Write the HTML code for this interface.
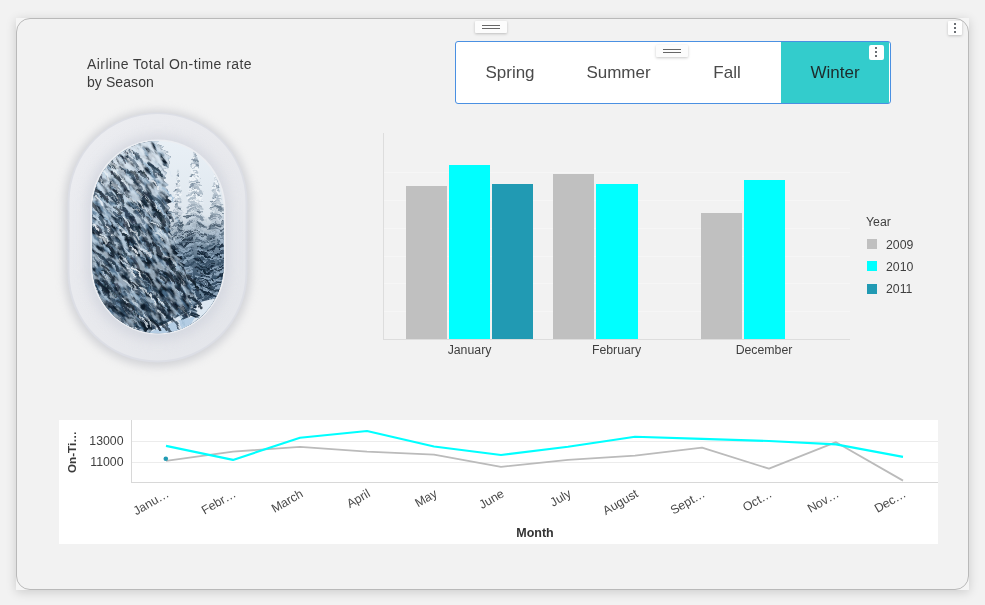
<!DOCTYPE html>
<html lang="en">
<head>
<meta charset="utf-8">
<title>Airline Total On-time rate by Season</title>
<style>
html,body{margin:0;padding:0;}
body{width:985px;height:605px;overflow:hidden;background:#f2f2f2;font-family:"Liberation Sans",sans-serif;color:#3b3b3b;position:relative;}
.abs{position:absolute;}
#shadowbox{left:16px;top:18px;width:953px;height:572px;box-shadow:0 2px 10px rgba(0,0,0,0.16);background:#f5f5f5;}
#frame{left:16px;top:18px;width:951px;height:570px;border:1px solid #b9b9b9;border-radius:14px;background:#f2f2f2;}
.handle{width:32px;height:12px;border-radius:1px;background:#fcfcfc;box-shadow:0 1px 3px rgba(0,0,0,0.22);}
.handle i{position:absolute;left:7px;width:18px;height:1px;background:#666;}
.kebab{width:14px;height:14px;border-radius:1px;background:#fff;box-shadow:0 1px 3px rgba(0,0,0,0.2);}
.kebab i{position:absolute;left:6px;width:2px;height:2px;background:#6a6e73;}
#title{left:87px;top:55px;font-size:14px;line-height:18px;letter-spacing:0.43px;color:#3d3d3d;white-space:nowrap;}
#tabs{left:455px;top:41px;width:434px;height:61px;border:1px solid #4a90e2;border-radius:3px;background:#fff;}
.tab{position:absolute;top:0;height:61px;line-height:61px;text-align:center;font-size:17px;color:#4a4a4a;}
#chartlbl text{font-family:"Liberation Sans",sans-serif;}
</style>
</head>
<body>
<div id="shadowbox" class="abs"></div>
<div id="frame" class="abs"></div>

<div class="abs handle" style="left:475px;top:21px;"><i style="top:4px"></i><i style="top:7px"></i></div>
<div class="abs kebab" style="left:948px;top:21px;"><i style="top:2px"></i><i style="top:6px"></i><i style="top:10px"></i></div>

<div id="title" class="abs">Airline Total On-time rate<br><span style="letter-spacing:0.08px">by Season</span></div>

<div id="tabs" class="abs">
  <div class="tab" style="left:0;width:108px;">Spring</div>
  <div class="tab" style="left:108px;width:109px;">Summer</div>
  <div class="tab" style="left:217px;width:108px;">Fall</div>
  <div class="tab" style="left:325px;width:108px;background:#33cccc;color:#1d2b2b;">Winter</div>
</div>
<div class="abs handle" style="left:656px;top:45px;"><i style="top:4px"></i><i style="top:7px"></i></div>
<div class="abs kebab" style="left:868.5px;top:44.5px;width:15px;height:15px;box-shadow:none;border-radius:2px;"><i style="left:6.5px;top:2.5px"></i><i style="left:6.5px;top:6.5px"></i><i style="left:6.5px;top:10.5px"></i></div>

<!-- window -->
<svg class="abs" style="left:40px;top:95px;" width="240" height="290" viewBox="40 95 240 290">
  <defs>
    <clipPath id="inner"><rect x="92.300" y="141" width="131.400" height="192.300" rx="65.700" ry="68"/></clipPath>
    <linearGradient id="fr" x1="0" y1="0" x2="1" y2="1">
      <stop offset="0" stop-color="#ecedf1"/><stop offset="0.5" stop-color="#e8e9ed"/><stop offset="1" stop-color="#e3e5ea"/>
    </linearGradient>
    <linearGradient id="sky" x1="0" y1="0" x2="0" y2="1">
      <stop offset="0" stop-color="#e9f0f6"/><stop offset="0.4" stop-color="#dfe7ee"/><stop offset="1" stop-color="#c5d2de"/>
    </linearGradient>
    <linearGradient id="rdark" x1="0" y1="0" x2="0" y2="1">
      <stop offset="0" stop-color="#7f94a6" stop-opacity="0"/><stop offset="0.25" stop-color="#5f788e" stop-opacity="0.8"/><stop offset="0.5" stop-color="#38526a" stop-opacity="0.97"/><stop offset="1" stop-color="#2f455b" stop-opacity="1"/>
    </linearGradient>
    <linearGradient id="tree" x1="0" y1="0" x2="0.35" y2="1">
      <stop offset="0" stop-color="#a9c0d2"/><stop offset="0.25" stop-color="#6d8ca6"/><stop offset="1" stop-color="#3f5f7b"/>
    </linearGradient>
    <clipPath id="frameclip"><rect x="69.500" y="114" width="176" height="246.500" rx="88"/></clipPath>
    <filter id="blur6" x="-20%" y="-20%" width="140%" height="140%"><feGaussianBlur stdDeviation="6"/></filter>
    <filter id="blur4" x="-20%" y="-20%" width="140%" height="140%"><feGaussianBlur stdDeviation="4"/></filter>
    <filter id="soft" x="-5%" y="-5%" width="110%" height="110%"><feGaussianBlur stdDeviation="0.45"/></filter>
    <filter id="rough" x="-5%" y="-5%" width="110%" height="110%">
      <feTurbulence type="fractalNoise" baseFrequency="0.18" numOctaves="2" seed="4" result="t"/>
      <feDisplacementMap in="SourceGraphic" in2="t" scale="5" xChannelSelector="R" yChannelSelector="G" result="d"/>
      <feGaussianBlur in="d" stdDeviation="0.35"/>
    </filter>
    <filter id="rough2" x="-5%" y="-5%" width="110%" height="110%">
      <feTurbulence type="fractalNoise" baseFrequency="0.2" numOctaves="2" seed="9" result="t"/>
      <feDisplacementMap in="SourceGraphic" in2="t" scale="3.5" xChannelSelector="R" yChannelSelector="G" result="d"/>
      <feGaussianBlur in="d" stdDeviation="0.3"/>
    </filter>
    <filter id="n1" x="0" y="0" width="100%" height="100%" color-interpolation-filters="sRGB">
      <feTurbulence type="fractalNoise" baseFrequency="0.085 0.23" numOctaves="4" seed="3" result="t"/>
      <feColorMatrix in="t" type="matrix" values="0 0 0 0 0  0 0 0 0 0  0 0 0 0 0  4.6 0 0 0 -1.75" result="a"/>
      <feFlood flood-color="#cfe0ee" result="f"/>
      <feComposite in="f" in2="a" operator="in"/>
    </filter>
    <filter id="n3" x="0" y="0" width="100%" height="100%" color-interpolation-filters="sRGB">
      <feTurbulence type="fractalNoise" baseFrequency="0.09 0.2" numOctaves="4" seed="23" result="t"/>
      <feColorMatrix in="t" type="matrix" values="0 0 0 0 0  0 0 0 0 0  0 0 0 0 0  0 0 3.4 0 -1.0" result="a"/>
      <feFlood flood-color="#dde7f0" result="f"/>
      <feComposite in="f" in2="a" operator="in"/>
    </filter>
    <linearGradient id="tmg" gradientUnits="userSpaceOnUse" x1="0" y1="141" x2="0" y2="205">
      <stop offset="0" stop-color="#fff"/><stop offset="0.45" stop-color="#bbb"/><stop offset="1" stop-color="#000"/>
    </linearGradient>
    <mask id="tm" maskUnits="userSpaceOnUse" x="-200" y="-200" width="800" height="800"><rect x="-200" y="-200" width="800" height="800" fill="url(#tmg)" transform="rotate(-50 158 237)"/></mask>
    <filter id="n2" x="0" y="0" width="100%" height="100%" color-interpolation-filters="sRGB">
      <feTurbulence type="fractalNoise" baseFrequency="0.08 0.22" numOctaves="4" seed="11" result="t"/>
      <feColorMatrix in="t" type="matrix" values="0 0 0 0 0  0 0 0 0 0  0 0 0 0 0  0 4.4 0 0 -1.6" result="a"/>
      <feFlood flood-color="#0c1a28" result="f"/>
      <feComposite in="f" in2="a" operator="in"/>
    </filter>
    <filter id="nr1" x="0" y="0" width="100%" height="100%" color-interpolation-filters="sRGB">
      <feTurbulence type="fractalNoise" baseFrequency="0.22 0.22" numOctaves="3" seed="5" result="t"/>
      <feColorMatrix in="t" type="matrix" values="0 0 0 0 0  0 0 0 0 0  0 0 0 0 0  3 0 0 0 -1.2" result="a"/>
      <feFlood flood-color="#f4f7fa" result="f"/>
      <feComposite in="f" in2="a" operator="in"/>
    </filter>
    <filter id="nr2" x="0" y="0" width="100%" height="100%" color-interpolation-filters="sRGB">
      <feTurbulence type="fractalNoise" baseFrequency="0.2 0.2" numOctaves="3" seed="8" result="t"/>
      <feColorMatrix in="t" type="matrix" values="0 0 0 0 0  0 0 0 0 0  0 0 0 0 0  0 3 0 0 -1.3" result="a"/>
      <feFlood flood-color="#5d7286" result="f"/>
      <feComposite in="f" in2="a" operator="in"/>
    </filter>
    <filter id="nr3" x="0" y="0" width="100%" height="100%" color-interpolation-filters="sRGB">
      <feTurbulence type="fractalNoise" baseFrequency="0.2 0.14" numOctaves="3" seed="15" result="t"/>
      <feColorMatrix in="t" type="matrix" values="0 0 0 0 0  0 0 0 0 0  0 0 0 0 0  0 0 3 0 -1.2" result="a"/>
      <feFlood flood-color="#2a4156" result="f"/>
      <feComposite in="f" in2="a" operator="in"/>
    </filter>
    <linearGradient id="lmg" gradientUnits="userSpaceOnUse" x1="100" y1="141" x2="150" y2="333">
      <stop offset="0" stop-color="#fff"/><stop offset="0.3" stop-color="#ddd"/><stop offset="1" stop-color="#8a8a8a"/>
    </linearGradient>
    <mask id="lm" maskUnits="userSpaceOnUse" x="-200" y="-200" width="800" height="800"><rect x="-200" y="-200" width="800" height="800" fill="url(#lmg)" transform="rotate(-50 158 237)"/></mask>
    <clipPath id="rightclip"><path d="M150 141 L230 141 L230 300 L200 298 L190 306 L176 318 L150 330Z"/></clipPath>
  </defs>
  <rect x="64" y="110" width="187" height="257" rx="93" fill="#b9bbc2" opacity="0.55" filter="url(#blur4)"/>
  <rect x="67.500" y="112.500" width="180" height="250" rx="90" fill="#dcdee5"/>
  <rect x="69.500" y="114" width="176" height="246.500" rx="88" fill="url(#fr)"/>
  <g clip-path="url(#frameclip)"><rect x="86" y="135" width="144" height="206" rx="72" fill="#d2d5de" opacity="0.85" filter="url(#blur6)"/></g>
  <rect x="90.500" y="139.500" width="135" height="195" rx="67.500" ry="69.500" fill="#eceef2"/>
<g clip-path="url(#inner)">
<rect x="92" y="141" width="132" height="192" fill="url(#sky)"/>
<g filter="url(#soft)">
<path d="M216 167 L217.4 170 L216.8 172.4 L218.6 177.1 L217.2 179.5 L219.1 184.2 L217.6 186.6 L220.1 191.2 L217.9 193.7 L220.1 198.3 L218.3 200.8 L222 205.4 L218.7 207.9 L222.7 212.5 L219.1 214.9 L222.9 219.6 L219.5 222 L223.1 226.7 L219.9 229.1 L225.5 233.8 L220.2 236.2 L223.9 240.8 L220.6 243.3 L227.4 247.9 L221 250.4 L225.9 255 L221.4 257.4 L225.9 262.1 L221.8 264.5 L228.1 269.2 L222.2 271.6 L228.1 276.2 L222.6 278.7 L228.7 283.3 L222.9 285.8 L229.7 290.4 L223.3 292.9 L233 297.5 L223.7 299.9 L232.9 304.6 L224.1 307 L235.4 311.7 L224.5 314.1 L231.7 318.8 L224.8 321.2 L235.7 325.8 L225.2 328.3 L237.8 332.9 L225.6 335.4 L238 340 L226 342.4 L226 340 L206 340 L206 342.4 L195 340 L206.4 335.4 L197.2 332.9 L206.8 328.3 L196.4 325.8 L207.2 321.2 L199.2 318.8 L207.5 314.1 L197.2 311.7 L207.9 307 L201.4 304.6 L208.3 299.9 L200.3 297.5 L208.7 292.9 L203.5 290.4 L209.1 285.8 L202.3 283.3 L209.4 278.7 L204 276.2 L209.8 271.6 L203.7 269.2 L210.2 264.5 L205.4 262.1 L210.6 257.4 L205.5 255 L211 250.4 L206.3 247.9 L211.4 243.3 L206.6 240.8 L211.8 236.2 L208.7 233.8 L212.1 229.1 L207.2 226.7 L212.5 222 L208.6 219.6 L212.9 214.9 L210.7 212.5 L213.3 207.9 L210.7 205.4 L213.7 200.8 L212 198.3 L214.1 193.7 L211.8 191.2 L214.4 186.6 L212.9 184.2 L214.8 179.5 L213.8 177.1 L215.2 172.4 L214.2 170Z" fill="#c3ced8" opacity="1"/>
<path d="M178 169 L179.3 172 L178.6 174.4 L179.4 179 L178.8 181.4 L180.4 186 L179.1 188.4 L180.9 193 L179.4 195.4 L181.4 200 L179.6 202.4 L181.9 207 L179.9 209.4 L182.2 214 L180.2 216.4 L183.2 221 L180.4 223.4 L184.1 228 L180.7 230.4 L183.9 235 L181 237.4 L183.6 242 L181.2 244.4 L184.9 249 L181.5 251.4 L185.3 256 L181.8 258.4 L186.2 263 L182 265.4 L185.9 270 L182.3 272.4 L186.7 277 L182.6 279.4 L187.7 284 L182.9 286.4 L188.8 291 L183.1 293.4 L190.1 298 L183.4 300.4 L190.1 305 L183.7 307.4 L190.8 312 L183.9 314.4 L189.8 319 L184.2 321.4 L192.7 326 L184.5 328.4 L192.5 333 L184.7 335.4 L191.8 340 L185 342.4 L185 340 L171 340 L171 342.4 L163.9 340 L171.3 335.4 L163.7 333 L171.5 328.4 L166.4 326 L171.8 321.4 L163.8 319 L172.1 314.4 L165.1 312 L172.3 307.4 L165.3 305 L172.6 300.4 L166.3 298 L172.9 293.4 L168.7 291 L173.1 286.4 L166.8 284 L173.4 279.4 L169.8 277 L173.7 272.4 L170.6 270 L174 265.4 L169.8 263 L174.2 258.4 L169.6 256 L174.5 251.4 L171.4 249 L174.8 244.4 L172.4 242 L175 237.4 L172.5 235 L175.3 230.4 L172.5 228 L175.6 223.4 L172.4 221 L175.8 216.4 L173.8 214 L176.1 209.4 L174.6 207 L176.4 202.4 L174.6 200 L176.6 195.4 L175.4 193 L176.9 188.4 L175.7 186 L177.2 181.4 L176.5 179 L177.4 174.4 L176.7 172Z" fill="#c9d3dc" opacity="1"/>
<path d="M195 149 L196.8 152 L196 154.8 L197.8 160.2 L196.4 163 L199 168.3 L196.9 171.1 L199.1 176.5 L197.4 179.3 L200.3 184.7 L197.9 187.5 L202.7 192.9 L198.4 195.7 L203.5 201 L198.8 203.8 L204 209.2 L199.3 212 L205 217.4 L199.8 220.2 L205.6 225.6 L200.3 228.4 L207.1 233.7 L200.8 236.5 L208.4 241.9 L201.2 244.7 L207.6 250.1 L201.7 252.9 L211 258.3 L202.2 261.1 L211.4 266.4 L202.7 269.2 L212.4 274.6 L203.2 277.4 L211.7 282.8 L203.6 285.6 L212.9 291 L204.1 293.8 L216.4 299.1 L204.6 301.9 L213 307.3 L205.1 310.1 L219.1 315.5 L205.6 318.3 L217.9 323.7 L206 326.5 L218.1 331.8 L206.5 334.6 L217.9 340 L207 342.8 L207 340 L183 340 L183 342.8 L170.4 340 L183.5 334.6 L172.7 331.8 L184 326.5 L174.2 323.7 L184.4 318.3 L174.3 315.5 L184.9 310.1 L176.6 307.3 L185.4 301.9 L178.1 299.1 L185.9 293.8 L174.4 291 L186.4 285.6 L176.2 282.8 L186.8 277.4 L176.6 274.6 L187.3 269.2 L177.9 266.4 L187.8 261.1 L180.7 258.3 L188.3 252.9 L183.5 250.1 L188.8 244.7 L182.2 241.9 L189.2 236.5 L185 233.7 L189.7 228.4 L183.7 225.6 L190.2 220.2 L184.3 217.4 L190.7 212 L187.3 209.2 L191.2 203.8 L187.4 201 L191.6 195.7 L188.3 192.9 L192.1 187.5 L189.7 184.7 L192.6 179.3 L189.7 176.5 L193.1 171.1 L191.7 168.3 L193.6 163 L192 160.2 L194 154.8 L193.1 152Z" fill="#b9c6d1" opacity="1"/>
<path d="M226 192 L227.3 195 L226.7 197.4 L228.2 202.2 L227.1 204.7 L228.7 209.5 L227.5 211.9 L230.4 216.8 L228 219.2 L231.1 224 L228.4 226.4 L231.6 231.2 L228.8 233.7 L231.8 238.5 L229.2 240.9 L232.6 245.8 L229.6 248.2 L234.9 253 L230 255.4 L235.7 260.2 L230.4 262.7 L235.2 267.5 L230.9 269.9 L237.3 274.8 L231.3 277.2 L238.7 282 L231.7 284.4 L238.6 289.2 L232.1 291.7 L239.1 296.5 L232.5 298.9 L239.8 303.8 L232.9 306.2 L242.6 311 L233.3 313.4 L241.7 318.2 L233.8 320.7 L244.3 325.5 L234.2 327.9 L245.1 332.8 L234.6 335.2 L244 340 L235 342.4 L235 340 L217 340 L217 342.4 L208.5 340 L217.4 335.2 L207 332.8 L217.8 327.9 L209.3 325.5 L218.2 320.7 L211.4 318.2 L218.7 313.4 L209.7 311 L219.1 306.2 L213.8 303.8 L219.5 298.9 L214.2 296.5 L219.9 291.7 L213.2 289.2 L220.3 284.4 L216 282 L220.7 277.2 L214.3 274.8 L221.1 269.9 L215.9 267.5 L221.6 262.7 L217.9 260.2 L222 255.4 L217.2 253 L222.4 248.2 L217.8 245.8 L222.8 240.9 L220.3 238.5 L223.2 233.7 L220.8 231.2 L223.6 226.4 L221.6 224 L224 219.2 L221.7 216.8 L224.5 211.9 L223 209.5 L224.9 204.7 L224 202.2 L225.3 197.4 L224.7 195Z" fill="#a9b8c5" opacity="1"/>
</g>
<rect x="150" y="215" width="80" height="125" fill="url(#rdark)"/>
<g fill="none" stroke-linecap="round" filter="url(#rough)">
<path d="M215.8 172.8L215 173.2" stroke="#b0beca" stroke-width="1.6"/>
<path d="M215.8 172.3L215.2 172.6" stroke="#f0f5f9" stroke-width="1.3"/>
<path d="M216.3 172.4L216.9 172.5" stroke="#8092a2" stroke-width="2"/>
<path d="M216.2 171.3L217.2 171.6" stroke="#b0beca" stroke-width="1.1"/>
<path d="M216 174.6L215.1 175" stroke="#8092a2" stroke-width="1.5"/>
<path d="M215.8 175L214.6 175.5" stroke="#f0f5f9" stroke-width="2"/>
<path d="M216.4 175.1L217.9 175.7" stroke="#f0f5f9" stroke-width="1.3"/>
<path d="M216.3 174.5L217.1 174.9" stroke="#f0f5f9" stroke-width="2"/>
<path d="M215.9 179.2L215 179.5" stroke="#8092a2" stroke-width="1.4"/>
<path d="M215.6 178.9L214.7 179.2" stroke="#f0f5f9" stroke-width="1.3"/>
<path d="M216.4 177.6L218.4 178.3" stroke="#f0f5f9" stroke-width="1.1"/>
<path d="M216.1 178.5L217.9 179.2" stroke="#f0f5f9" stroke-width="1.7"/>
<path d="M215.9 180.8L214.1 181.4" stroke="#f0f5f9" stroke-width="2"/>
<path d="M215.8 181.7L213.7 182.4" stroke="#f0f5f9" stroke-width="1.9"/>
<path d="M216.1 181.9L217.9 182.5" stroke="#f0f5f9" stroke-width="1.8"/>
<path d="M216.2 180.1L217.6 180.5" stroke="#b0beca" stroke-width="1.2"/>
<path d="M215.6 185.2L213.9 185.9" stroke="#b0beca" stroke-width="1.9"/>
<path d="M215.9 185.1L214.4 185.9" stroke="#f0f5f9" stroke-width="1.2"/>
<path d="M216.7 183.6L219.1 185" stroke="#8092a2" stroke-width="1.6"/>
<path d="M216.1 183.3L217.9 184.4" stroke="#f0f5f9" stroke-width="1.7"/>
<path d="M215.5 186.6L212.7 187.5" stroke="#b0beca" stroke-width="1.1"/>
<path d="M215.5 187.7L213.8 188.6" stroke="#f0f5f9" stroke-width="1.9"/>
<path d="M216 186.6L217.7 187.3" stroke="#f0f5f9" stroke-width="1.2"/>
<path d="M216.5 186.3L218.5 187.1" stroke="#8092a2" stroke-width="2"/>
<path d="M215.4 189.7L212.5 190.5" stroke="#f0f5f9" stroke-width="1.9"/>
<path d="M215 189.5L212.1 190.9" stroke="#b0beca" stroke-width="1.7"/>
<path d="M217 189.6L219.2 190.5" stroke="#b0beca" stroke-width="1.9"/>
<path d="M216.7 191L219.7 192.7" stroke="#f0f5f9" stroke-width="1.7"/>
<path d="M215.5 194.8L211.8 196.8" stroke="#b0beca" stroke-width="1.6"/>
<path d="M215.3 194.4L212.7 195.1" stroke="#b0beca" stroke-width="2"/>
<path d="M216.8 194L220.6 195.8" stroke="#b0beca" stroke-width="1.4"/>
<path d="M216.1 194.7L219.7 195.6" stroke="#b0beca" stroke-width="1.5"/>
<path d="M215.4 197.2L211.8 199.2" stroke="#f0f5f9" stroke-width="1"/>
<path d="M215.2 196.3L212.5 197.1" stroke="#8092a2" stroke-width="1.7"/>
<path d="M217.1 196.6L220.1 198" stroke="#f0f5f9" stroke-width="1.4"/>
<path d="M217.1 197.7L221 199.2" stroke="#b0beca" stroke-width="1.3"/>
<path d="M214.9 200.2L211.5 201.9" stroke="#7c8e9f" stroke-width="1.3"/>
<path d="M215.4 199.1L212.9 199.9" stroke="#edf2f7" stroke-width="1.6"/>
<path d="M216.4 200.2L219.8 202.2" stroke="#acbac7" stroke-width="1.1"/>
<path d="M217.2 198.6L219.3 199.7" stroke="#acbac7" stroke-width="1.3"/>
<path d="M215.8 203L213.5 203.6" stroke="#758797" stroke-width="1.2"/>
<path d="M215.9 203.4L213.3 204.4" stroke="#a4b3c0" stroke-width="1.7"/>
<path d="M217.4 203.5L222 204.9" stroke="#a4b3c0" stroke-width="1.2"/>
<path d="M216.7 203.5L218.9 204.2" stroke="#e6edf2" stroke-width="1.3"/>
<path d="M215 207.1L211 208.6" stroke="#6e8091" stroke-width="1.9"/>
<path d="M214.5 207L211.8 207.8" stroke="#9cacb9" stroke-width="1.6"/>
<path d="M216.6 206.7L221.9 209.6" stroke="#6e8091" stroke-width="1.9"/>
<path d="M217 206L220.9 207.9" stroke="#6e8091" stroke-width="1.6"/>
<path d="M214.5 211L211.1 213" stroke="#94a5b3" stroke-width="1.8"/>
<path d="M214.4 210.7L210.8 212.1" stroke="#d8e2ea" stroke-width="1.4"/>
<path d="M217.3 210L221.8 211.2" stroke="#67798a" stroke-width="1.1"/>
<path d="M216.3 209.7L221.6 212.5" stroke="#d8e2ea" stroke-width="1.1"/>
<path d="M214.5 213.6L209.1 216.7" stroke="#8d9ead" stroke-width="1.9"/>
<path d="M215.6 213.3L212.5 214.3" stroke="#8d9ead" stroke-width="1.6"/>
<path d="M217.5 213.3L222.2 215" stroke="#d2dde6" stroke-width="1.8"/>
<path d="M216.4 213.9L222.4 217.5" stroke="#8d9ead" stroke-width="1.6"/>
<path d="M215 216.1L210.1 217.4" stroke="#5c6e7e" stroke-width="1.5"/>
<path d="M214.5 216L210 217.9" stroke="#8798a8" stroke-width="1.1"/>
<path d="M216.8 216.8L221.8 219.7" stroke="#cdd9e3" stroke-width="1.5"/>
<path d="M216.8 216.5L220.2 218.5" stroke="#8798a8" stroke-width="1.3"/>
<path d="M214.1 217.9L208.6 220.8" stroke="#c8d4e0" stroke-width="1.2"/>
<path d="M214.6 218.2L210.6 219.7" stroke="#8193a3" stroke-width="1.1"/>
<path d="M216.2 218.6L222.3 220.6" stroke="#c8d4e0" stroke-width="1.5"/>
<path d="M216.8 218.4L221.6 220.5" stroke="#c8d4e0" stroke-width="1.2"/>
<path d="M214.9 222.6L208.9 225.4" stroke="#506273" stroke-width="1.2"/>
<path d="M214.3 222.8L207.8 225.1" stroke="#c1cfdb" stroke-width="1.9"/>
<path d="M218.1 222.7L222.3 224" stroke="#c1cfdb" stroke-width="1.7"/>
<path d="M216.2 222.6L220.5 224.3" stroke="#506273" stroke-width="1.1"/>
<path d="M216 224.4L209.5 227.5" stroke="#4a5c6d" stroke-width="2"/>
<path d="M214.9 225.5L210.9 227.1" stroke="#728697" stroke-width="1.2"/>
<path d="M216.2 224L219.9 225.7" stroke="#728697" stroke-width="1.6"/>
<path d="M216.4 224.4L220.5 226.6" stroke="#4a5c6d" stroke-width="1.9"/>
<path d="M213.8 227.4L209.9 229.4" stroke="#b7c7d5" stroke-width="1.5"/>
<path d="M215 227.7L209 229.2" stroke="#6d8092" stroke-width="1.8"/>
<path d="M217.1 228L221.4 229.7" stroke="#b7c7d5" stroke-width="1.2"/>
<path d="M216 228.3L222 231.4" stroke="#6d8092" stroke-width="1.9"/>
<path d="M214.5 230.8L208.8 234.2" stroke="#3e5061" stroke-width="1.3"/>
<path d="M214.2 231.4L205.9 235.8" stroke="#b0c1d1" stroke-width="1.9"/>
<path d="M217.7 231.4L225.8 235.5" stroke="#b0c1d1" stroke-width="1.7"/>
<path d="M216.8 230.8L220.9 231.8" stroke="#b0c1d1" stroke-width="1.6"/>
<path d="M213.6 234.5L208.5 236.4" stroke="#5d7285" stroke-width="1.6"/>
<path d="M215 235.2L208.3 238.3" stroke="#5d7285" stroke-width="1.8"/>
<path d="M216.1 234.4L225 239" stroke="#aabccd" stroke-width="1.4"/>
<path d="M216.5 233.9L220.7 235.1" stroke="#aabccd" stroke-width="1.9"/>
<path d="M213.4 237.5L206.6 241.6" stroke="#566c7f" stroke-width="1.8"/>
<path d="M214.4 237.9L209.9 239.1" stroke="#314354" stroke-width="1.2"/>
<path d="M216.5 237.4L223.1 240.5" stroke="#a4b7c9" stroke-width="1.9"/>
<path d="M217.4 237.6L223.8 240" stroke="#a4b7c9" stroke-width="1.7"/>
<path d="M214 240.2L208.1 241.7" stroke="#9eb2c5" stroke-width="1"/>
<path d="M213.9 240.4L208.7 243.3" stroke="#4f6579" stroke-width="1.1"/>
<path d="M218.7 239.8L228.5 245.4" stroke="#9eb2c5" stroke-width="1.5"/>
<path d="M216.7 240.7L226.4 246.3" stroke="#4f6579" stroke-width="1.5"/>
<path d="M214.2 243.7L204.9 248.1" stroke="#465d72" stroke-width="1.2"/>
<path d="M214.4 243.8L209.7 245.7" stroke="#465d72" stroke-width="1.5"/>
<path d="M217.7 244.3L223.7 247.5" stroke="#465d72" stroke-width="2"/>
<path d="M218.2 244L228.3 246.9" stroke="#223446" stroke-width="1.8"/>
<path d="M215.2 248.2L208.3 251.3" stroke="#3e566c" stroke-width="1.6"/>
<path d="M215.4 247.3L206.1 252.8" stroke="#1c2e40" stroke-width="1.9"/>
<path d="M216.2 247.4L221.1 249.3" stroke="#3e566c" stroke-width="1.1"/>
<path d="M216.2 247L224.2 250.9" stroke="#3e566c" stroke-width="1.6"/>
<path d="M215.3 250.5L207.5 254.5" stroke="#182a3c" stroke-width="1.1"/>
<path d="M213.4 251.1L207.9 253.9" stroke="#8ca4ba" stroke-width="1.4"/>
<path d="M218.6 250.5L225 253.6" stroke="#182a3c" stroke-width="1.3"/>
<path d="M218.4 251.6L226.7 255" stroke="#8ca4ba" stroke-width="1.1"/>
<path d="M215.7 254.6L210.2 257" stroke="#3a5268" stroke-width="1.3"/>
<path d="M215.7 253.9L205.6 258.8" stroke="#8ca4ba" stroke-width="1.3"/>
<path d="M218.3 254.1L228.1 257" stroke="#8ca4ba" stroke-width="1.7"/>
<path d="M216.4 254.9L223.8 258.3" stroke="#182a3c" stroke-width="1.9"/>
<path d="M213.2 257.9L205 260.9" stroke="#8ca4ba" stroke-width="1.9"/>
<path d="M215.1 258L203.7 262.3" stroke="#8ca4ba" stroke-width="1.4"/>
<path d="M216.7 258.4L224.6 262.6" stroke="#3a5268" stroke-width="1.8"/>
<path d="M216.6 258.8L225.7 263.9" stroke="#8ca4ba" stroke-width="1"/>
<path d="M214 262.4L204.7 266.8" stroke="#182a3c" stroke-width="1.1"/>
<path d="M213.2 260.6L203.9 263.2" stroke="#3a5268" stroke-width="1.9"/>
<path d="M218.3 260.7L224.2 263.8" stroke="#3a5268" stroke-width="1.2"/>
<path d="M218.7 261.5L225.7 265.1" stroke="#8ca4ba" stroke-width="1.3"/>
<path d="M214.2 265.4L203.6 270.7" stroke="#3a5268" stroke-width="1.9"/>
<path d="M212.9 265.6L204.3 270.4" stroke="#182a3c" stroke-width="1.8"/>
<path d="M219.6 265.6L231.8 270.9" stroke="#3a5268" stroke-width="1.8"/>
<path d="M217.6 264.6L226.3 269" stroke="#182a3c" stroke-width="1.4"/>
<path d="M214.4 267.5L207.1 271.8" stroke="#8ca4ba" stroke-width="1.3"/>
<path d="M213.5 268.5L206.9 270.6" stroke="#8ca4ba" stroke-width="1.5"/>
<path d="M219.5 267L229.7 270" stroke="#8ca4ba" stroke-width="1.2"/>
<path d="M218.7 268.2L226.3 270.6" stroke="#8ca4ba" stroke-width="1.3"/>
<path d="M214.8 270.7L203 277" stroke="#3a5268" stroke-width="1.3"/>
<path d="M212.4 270.3L199.6 276" stroke="#182a3c" stroke-width="1.5"/>
<path d="M216.2 271.5L223.8 275.5" stroke="#8ca4ba" stroke-width="1.5"/>
<path d="M217.1 271.6L227 276.4" stroke="#8ca4ba" stroke-width="1"/>
<path d="M212.8 274.2L203.8 278.3" stroke="#8ca4ba" stroke-width="1.2"/>
<path d="M215 274.5L206.3 278.2" stroke="#3a5268" stroke-width="2"/>
<path d="M218.2 273L226.3 277.3" stroke="#8ca4ba" stroke-width="1.8"/>
<path d="M219.3 272.9L232.2 277.3" stroke="#3a5268" stroke-width="1.1"/>
<path d="M212 277L202 282.6" stroke="#8ca4ba" stroke-width="1.8"/>
<path d="M212.2 276L202.5 281.2" stroke="#8ca4ba" stroke-width="1.5"/>
<path d="M216.7 277.5L227.2 281.3" stroke="#8ca4ba" stroke-width="1.1"/>
<path d="M217.9 277.3L226.7 280.6" stroke="#3a5268" stroke-width="1.1"/>
<path d="M211.9 280.5L201.6 285.4" stroke="#8ca4ba" stroke-width="1.4"/>
<path d="M215 280L202.6 285.1" stroke="#8ca4ba" stroke-width="2"/>
<path d="M216.9 280.1L230 284.7" stroke="#8ca4ba" stroke-width="1.5"/>
<path d="M217.4 279.6L226.3 283.9" stroke="#8ca4ba" stroke-width="1.2"/>
<path d="M211.9 283.5L202.4 288.2" stroke="#8ca4ba" stroke-width="1.8"/>
<path d="M215.4 282.5L208 286.1" stroke="#3a5268" stroke-width="1.2"/>
<path d="M219.7 283.5L229.7 286.4" stroke="#8ca4ba" stroke-width="1.2"/>
<path d="M217.8 282.5L225.4 286.9" stroke="#8ca4ba" stroke-width="1.5"/>
<path d="M212.3 286.5L198.7 291.5" stroke="#8ca4ba" stroke-width="1"/>
<path d="M212.9 287.7L202.5 293.1" stroke="#3a5268" stroke-width="1.6"/>
<path d="M217.5 286.4L224.4 289.7" stroke="#8ca4ba" stroke-width="1.4"/>
<path d="M219.5 287.4L230.9 292.6" stroke="#8ca4ba" stroke-width="1.8"/>
<path d="M214.4 290.5L202.3 294.1" stroke="#3a5268" stroke-width="2"/>
<path d="M212.7 291.1L201 294.9" stroke="#182a3c" stroke-width="1.6"/>
<path d="M216.4 290L225.2 293.9" stroke="#3a5268" stroke-width="1.3"/>
<path d="M217.7 290.4L233.2 295" stroke="#182a3c" stroke-width="1.1"/>
<path d="M213.3 294.3L201 298.6" stroke="#182a3c" stroke-width="2"/>
<path d="M213.1 293.5L198.2 301.5" stroke="#8ca4ba" stroke-width="1.9"/>
<path d="M218.7 294.9L228.2 297.9" stroke="#3a5268" stroke-width="1.1"/>
<path d="M216.9 295.2L224.3 299.5" stroke="#3a5268" stroke-width="1.3"/>
<path d="M214.1 297.8L199.6 305.5" stroke="#8ca4ba" stroke-width="1.2"/>
<path d="M215.3 297.4L203.4 302.8" stroke="#8ca4ba" stroke-width="1.5"/>
<path d="M218.8 297.3L228.7 302" stroke="#8ca4ba" stroke-width="1.7"/>
<path d="M220.7 297.8L229.4 301.5" stroke="#8ca4ba" stroke-width="1.6"/>
<path d="M212.2 301L197.1 310.1" stroke="#182a3c" stroke-width="1.9"/>
<path d="M213.8 301.2L202.2 307.8" stroke="#3a5268" stroke-width="1.5"/>
<path d="M220.5 300.7L232.4 303.9" stroke="#3a5268" stroke-width="1.9"/>
<path d="M219 301.6L233.9 306.9" stroke="#3a5268" stroke-width="1.1"/>
<path d="M213.4 303.4L201.2 306.7" stroke="#3a5268" stroke-width="1.5"/>
<path d="M214.4 303.4L204.3 306.8" stroke="#8ca4ba" stroke-width="1.9"/>
<path d="M219.4 304.4L236.9 311.4" stroke="#182a3c" stroke-width="1.2"/>
<path d="M218.9 304.5L234.2 308.8" stroke="#182a3c" stroke-width="1.1"/>
<path d="M216 306.3L198.2 312.6" stroke="#8ca4ba" stroke-width="1.1"/>
<path d="M211.7 306.7L194.6 313.1" stroke="#3a5268" stroke-width="1"/>
<path d="M220.7 306.5L228.9 309.9" stroke="#182a3c" stroke-width="2"/>
<path d="M217.1 306.4L229.9 313.8" stroke="#182a3c" stroke-width="1.2"/>
<path d="M213.5 309.9L201.6 316.5" stroke="#182a3c" stroke-width="1.2"/>
<path d="M215 311.3L200.2 315.2" stroke="#8ca4ba" stroke-width="1.7"/>
<path d="M220.8 311.3L232.2 316.9" stroke="#8ca4ba" stroke-width="1.7"/>
<path d="M218.4 309.7L236.5 315.6" stroke="#8ca4ba" stroke-width="1.7"/>
<path d="M214.7 313.5L204.6 318.9" stroke="#8ca4ba" stroke-width="1.7"/>
<path d="M212.8 312.7L195 319" stroke="#182a3c" stroke-width="1.7"/>
<path d="M219.5 312.4L230.7 319" stroke="#8ca4ba" stroke-width="1.5"/>
<path d="M216.2 313.4L230.2 318.3" stroke="#8ca4ba" stroke-width="1.8"/>
<path d="M211.8 315.2L200.3 319.2" stroke="#3a5268" stroke-width="1.2"/>
<path d="M210.5 314.8L192.3 322.3" stroke="#182a3c" stroke-width="1.4"/>
<path d="M218.8 315.1L237.4 323.4" stroke="#3a5268" stroke-width="1.4"/>
<path d="M220.3 315.8L236 322.4" stroke="#182a3c" stroke-width="1.7"/>
<path d="M215 319.5L195.8 325.4" stroke="#3a5268" stroke-width="1.2"/>
<path d="M211.6 319.5L198.1 326.6" stroke="#8ca4ba" stroke-width="1.5"/>
<path d="M219.3 318.9L230.3 321.8" stroke="#3a5268" stroke-width="1.7"/>
<path d="M220.9 318.3L235.9 322.8" stroke="#8ca4ba" stroke-width="1.5"/>
<path d="M177.8 174.3L177.3 174.5" stroke="#f0f5f9" stroke-width="1.4"/>
<path d="M177.8 174.4L177.3 174.6" stroke="#b0beca" stroke-width="1.7"/>
<path d="M178.1 173.3L178.5 173.6" stroke="#f0f5f9" stroke-width="1.8"/>
<path d="M178.2 173.7L178.5 173.8" stroke="#8092a2" stroke-width="1"/>
<path d="M177.8 175.7L176.9 176.3" stroke="#8092a2" stroke-width="1.1"/>
<path d="M178 176.1L177.3 176.4" stroke="#f0f5f9" stroke-width="1.7"/>
<path d="M178.1 177.1L178.5 177.3" stroke="#f0f5f9" stroke-width="1.6"/>
<path d="M178.1 175.6L178.8 175.9" stroke="#8092a2" stroke-width="2"/>
<path d="M177.9 180.3L177 180.7" stroke="#f0f5f9" stroke-width="1.2"/>
<path d="M177.8 180.5L177 180.9" stroke="#f0f5f9" stroke-width="1.8"/>
<path d="M178.2 179.3L179.1 179.7" stroke="#f0f5f9" stroke-width="1.8"/>
<path d="M178.2 179.2L178.9 179.6" stroke="#f0f5f9" stroke-width="1.3"/>
<path d="M178 182.7L176.7 183.1" stroke="#f0f5f9" stroke-width="1.5"/>
<path d="M177.8 183.7L176.2 184.2" stroke="#8092a2" stroke-width="1.4"/>
<path d="M178.3 183.6L179.2 183.8" stroke="#f0f5f9" stroke-width="1.8"/>
<path d="M178.1 181.8L179.1 182.1" stroke="#b0beca" stroke-width="2"/>
<path d="M178 186.3L176.6 187.1" stroke="#8092a2" stroke-width="1.6"/>
<path d="M177.7 186.7L176.6 187.2" stroke="#f0f5f9" stroke-width="1.9"/>
<path d="M178.1 186.3L179.9 187.3" stroke="#f0f5f9" stroke-width="1.9"/>
<path d="M178.4 187.1L179.8 187.6" stroke="#f0f5f9" stroke-width="1.3"/>
<path d="M177.9 190.9L176.1 191.6" stroke="#f0f5f9" stroke-width="1.4"/>
<path d="M177.6 190.4L175.4 191.6" stroke="#8092a2" stroke-width="1.8"/>
<path d="M178.4 190.9L179.9 191.7" stroke="#b0beca" stroke-width="1.3"/>
<path d="M178.5 190.3L179.9 190.6" stroke="#b0beca" stroke-width="1.9"/>
<path d="M177.3 193.8L174.9 195.1" stroke="#f0f5f9" stroke-width="1.1"/>
<path d="M177.8 194.6L176.2 195.4" stroke="#b0beca" stroke-width="1.6"/>
<path d="M178.4 194.1L179.7 194.6" stroke="#f0f5f9" stroke-width="1.4"/>
<path d="M178.5 193L180.1 193.4" stroke="#f0f5f9" stroke-width="1.7"/>
<path d="M177.2 197L174.9 197.6" stroke="#b0beca" stroke-width="1.4"/>
<path d="M177.5 196.9L175.9 197.5" stroke="#f0f5f9" stroke-width="1.9"/>
<path d="M178.3 196.8L179.5 197.2" stroke="#f0f5f9" stroke-width="1.2"/>
<path d="M178.4 197.7L181.1 198.5" stroke="#b0beca" stroke-width="1.6"/>
<path d="M177.6 201.6L175.8 202.6" stroke="#eaf0f5" stroke-width="1.5"/>
<path d="M177.6 201.3L174.9 202.6" stroke="#7a8c9c" stroke-width="1.6"/>
<path d="M178.3 201.4L180.9 202.3" stroke="#a9b7c4" stroke-width="1.4"/>
<path d="M178.1 200.4L180 201.2" stroke="#eaf0f5" stroke-width="1"/>
<path d="M177.1 204.7L175 205.5" stroke="#728495" stroke-width="1.9"/>
<path d="M177.9 204.8L175.7 206" stroke="#a1b0bd" stroke-width="1.8"/>
<path d="M178.6 204.1L180.9 205" stroke="#e3eaf1" stroke-width="1.4"/>
<path d="M178.8 203.9L181.1 204.6" stroke="#e3eaf1" stroke-width="2"/>
<path d="M177.1 208.5L175.4 209.4" stroke="#dde5ed" stroke-width="1.7"/>
<path d="M177.9 208.4L175.6 209.7" stroke="#dde5ed" stroke-width="1.9"/>
<path d="M178.3 206.7L180 207.3" stroke="#dde5ed" stroke-width="1.7"/>
<path d="M178.2 207.1L180.5 207.9" stroke="#6c7e8e" stroke-width="1.6"/>
<path d="M177.4 210.2L174.1 211.6" stroke="#94a4b2" stroke-width="1.8"/>
<path d="M177.3 210.2L174.4 211.6" stroke="#d8e1ea" stroke-width="1.4"/>
<path d="M178.8 209.8L181.7 211.5" stroke="#94a4b2" stroke-width="1.9"/>
<path d="M179.1 210.6L182.4 212" stroke="#d8e1ea" stroke-width="1.6"/>
<path d="M177.8 212.9L173.9 214.1" stroke="#d1dce5" stroke-width="1.1"/>
<path d="M177.7 213L175.8 213.9" stroke="#8c9dac" stroke-width="2"/>
<path d="M178.9 214.7L183.1 215.8" stroke="#d1dce5" stroke-width="1.9"/>
<path d="M178.3 214.3L181.3 215.5" stroke="#8c9dac" stroke-width="1.3"/>
<path d="M177.2 217.5L175 218.8" stroke="#5a6c7d" stroke-width="1.9"/>
<path d="M177.6 217.4L174.7 218.7" stroke="#8597a7" stroke-width="1"/>
<path d="M178.6 217L181.2 218.4" stroke="#5a6c7d" stroke-width="1.3"/>
<path d="M179.1 217.5L182.1 218.8" stroke="#ccd8e2" stroke-width="1.6"/>
<path d="M177.7 219.5L174.6 221" stroke="#c6d3de" stroke-width="1.5"/>
<path d="M177 219.3L172.3 221.1" stroke="#c6d3de" stroke-width="1.7"/>
<path d="M178.2 219.9L182.1 221.6" stroke="#7e90a0" stroke-width="1.4"/>
<path d="M178.5 220.8L181.4 221.8" stroke="#7e90a0" stroke-width="1.5"/>
<path d="M177.7 222.1L174.4 223.3" stroke="#c1cedb" stroke-width="1.9"/>
<path d="M177.5 222.7L174.5 223.9" stroke="#788b9b" stroke-width="1.6"/>
<path d="M179 221.6L181.4 222.4" stroke="#4f6172" stroke-width="2"/>
<path d="M178.2 222.3L182.4 223.7" stroke="#4f6172" stroke-width="1.2"/>
<path d="M177 225.3L172.8 227.1" stroke="#495b6c" stroke-width="1.5"/>
<path d="M177.4 225.1L172.3 227" stroke="#728596" stroke-width="1.8"/>
<path d="M178.8 225.6L181.8 226.9" stroke="#728596" stroke-width="1.6"/>
<path d="M178.5 224.7L183 225.9" stroke="#495b6c" stroke-width="1.8"/>
<path d="M176.6 227.4L171.1 230.4" stroke="#b6c6d4" stroke-width="1.3"/>
<path d="M177.3 227.2L174.1 228.1" stroke="#b6c6d4" stroke-width="1.3"/>
<path d="M178.2 228.8L181.1 229.9" stroke="#6b7f91" stroke-width="1.6"/>
<path d="M178.2 227.6L183.6 230.5" stroke="#435566" stroke-width="1.9"/>
<path d="M177.7 232.1L173.9 234.1" stroke="#64788b" stroke-width="1.8"/>
<path d="M177.1 232.1L173.7 233.1" stroke="#64788b" stroke-width="1.2"/>
<path d="M179.4 231.6L184.7 233.7" stroke="#afc1d0" stroke-width="1.5"/>
<path d="M178.7 230.5L182.4 232.6" stroke="#64788b" stroke-width="1.6"/>
<path d="M177 235L171.2 238.2" stroke="#a8bbcc" stroke-width="1.9"/>
<path d="M176.6 235L173.9 236.3" stroke="#364859" stroke-width="1.2"/>
<path d="M179.4 235.5L183.5 237.2" stroke="#364859" stroke-width="1.7"/>
<path d="M179.1 234.7L184.9 236.7" stroke="#a8bbcc" stroke-width="1.1"/>
<path d="M177.7 237.6L171.4 239.5" stroke="#314354" stroke-width="1.5"/>
<path d="M176.5 238.1L173.1 240.2" stroke="#a4b7c9" stroke-width="1.4"/>
<path d="M178.5 237.6L183.7 240.1" stroke="#314354" stroke-width="1.8"/>
<path d="M178.5 237.9L184 240.1" stroke="#a4b7c9" stroke-width="1"/>
<path d="M177.8 240.7L173.6 242.4" stroke="#9db2c5" stroke-width="1.6"/>
<path d="M177 241.7L172.1 244.5" stroke="#9db2c5" stroke-width="1.9"/>
<path d="M179.8 239.9L183.9 241.3" stroke="#2a3c4e" stroke-width="1.7"/>
<path d="M178.4 240L184 243.3" stroke="#9db2c5" stroke-width="1.2"/>
<path d="M176.7 244.8L170.4 248.1" stroke="#97adc1" stroke-width="1.9"/>
<path d="M177.9 244.7L173.7 247.1" stroke="#485e73" stroke-width="1.5"/>
<path d="M178.4 242.9L182.2 244" stroke="#485e73" stroke-width="1.9"/>
<path d="M179 244.2L185.7 246.9" stroke="#243648" stroke-width="1.7"/>
<path d="M176.6 247.9L169.9 249.9" stroke="#3f566c" stroke-width="1.4"/>
<path d="M177.6 247.5L173.8 248.7" stroke="#3f566c" stroke-width="1.3"/>
<path d="M179.4 247.7L186.7 250.6" stroke="#90a7bc" stroke-width="1.2"/>
<path d="M179.9 248L187 251.4" stroke="#90a7bc" stroke-width="1.5"/>
<path d="M176.7 249.7L172.1 251.2" stroke="#3a5268" stroke-width="1.5"/>
<path d="M177.7 249.5L170.6 253.6" stroke="#3a5268" stroke-width="1.7"/>
<path d="M178.3 251.3L183.9 253.7" stroke="#182a3c" stroke-width="1.1"/>
<path d="M179.2 249.8L183.6 252.3" stroke="#8ca4ba" stroke-width="1.1"/>
<path d="M175.9 253.7L171.4 255.9" stroke="#8ca4ba" stroke-width="1"/>
<path d="M177.7 252.4L170.7 255.2" stroke="#182a3c" stroke-width="1.2"/>
<path d="M180 252L183.6 253.8" stroke="#8ca4ba" stroke-width="1.3"/>
<path d="M179 253.8L183.2 256.1" stroke="#3a5268" stroke-width="1.1"/>
<path d="M176.2 256.5L171.4 257.7" stroke="#8ca4ba" stroke-width="2"/>
<path d="M177.8 255.2L173.7 257.5" stroke="#8ca4ba" stroke-width="1.7"/>
<path d="M179.5 255L183.5 256.8" stroke="#3a5268" stroke-width="1.9"/>
<path d="M180.2 255.5L185.7 258.6" stroke="#182a3c" stroke-width="2"/>
<path d="M176.4 259L171.6 260.6" stroke="#182a3c" stroke-width="1.5"/>
<path d="M177.8 257.2L174.3 258.4" stroke="#182a3c" stroke-width="1.7"/>
<path d="M180.2 258L187.7 261.7" stroke="#3a5268" stroke-width="1.7"/>
<path d="M180.1 257.5L184 259.1" stroke="#3a5268" stroke-width="1.7"/>
<path d="M177.3 262.3L172.1 263.7" stroke="#182a3c" stroke-width="1.3"/>
<path d="M177.2 262.3L171.7 264" stroke="#8ca4ba" stroke-width="1.1"/>
<path d="M179.5 262.8L183.8 263.9" stroke="#3a5268" stroke-width="1.4"/>
<path d="M178.8 261.1L184 263.1" stroke="#8ca4ba" stroke-width="1.1"/>
<path d="M176.2 265.4L167.8 269.9" stroke="#3a5268" stroke-width="1.2"/>
<path d="M175.5 264.8L171.2 267" stroke="#8ca4ba" stroke-width="1.8"/>
<path d="M178.2 263.9L184.7 267.7" stroke="#3a5268" stroke-width="1.1"/>
<path d="M179.9 264.1L184 265.9" stroke="#8ca4ba" stroke-width="1.2"/>
<path d="M177.5 266.9L171.4 269.4" stroke="#8ca4ba" stroke-width="1.1"/>
<path d="M177.9 268.1L171.5 271.3" stroke="#3a5268" stroke-width="2"/>
<path d="M179.1 267.4L183.8 268.7" stroke="#182a3c" stroke-width="1"/>
<path d="M179.7 268.6L188.7 271" stroke="#182a3c" stroke-width="2"/>
<path d="M176.3 271.1L169.2 275" stroke="#3a5268" stroke-width="1.5"/>
<path d="M176.3 271.3L170.1 274.9" stroke="#182a3c" stroke-width="1.3"/>
<path d="M178.6 271.1L186.5 274.5" stroke="#3a5268" stroke-width="1.1"/>
<path d="M178.5 271.4L183.3 272.9" stroke="#3a5268" stroke-width="1.9"/>
<path d="M176.4 274L171 276.2" stroke="#8ca4ba" stroke-width="1.7"/>
<path d="M175.3 274.2L169.3 277.1" stroke="#182a3c" stroke-width="2"/>
<path d="M180.6 273.4L184.8 275.9" stroke="#182a3c" stroke-width="1.3"/>
<path d="M179.5 274.1L187.6 277.9" stroke="#3a5268" stroke-width="1.7"/>
<path d="M176.2 278L171.9 280.4" stroke="#3a5268" stroke-width="1.5"/>
<path d="M177.4 278.4L172.4 279.8" stroke="#182a3c" stroke-width="1.1"/>
<path d="M179.8 276.7L186.2 279.3" stroke="#182a3c" stroke-width="1.4"/>
<path d="M178.2 278.5L183.4 280" stroke="#3a5268" stroke-width="1.6"/>
<path d="M176 279.9L168.4 282.4" stroke="#182a3c" stroke-width="1.2"/>
<path d="M176.7 281L169.5 285" stroke="#182a3c" stroke-width="1.6"/>
<path d="M178.3 280.6L185.8 283.6" stroke="#182a3c" stroke-width="1.4"/>
<path d="M179.1 281.1L184.2 283.3" stroke="#3a5268" stroke-width="1.1"/>
<path d="M176.6 282.4L170.5 285.9" stroke="#8ca4ba" stroke-width="1"/>
<path d="M176.5 283.4L170.6 286.6" stroke="#8ca4ba" stroke-width="2"/>
<path d="M179.5 283.5L189.1 286.9" stroke="#8ca4ba" stroke-width="1"/>
<path d="M180.6 283.1L190.8 287.8" stroke="#3a5268" stroke-width="1.7"/>
<path d="M177.5 285.9L168.3 290.2" stroke="#182a3c" stroke-width="1.6"/>
<path d="M175.5 285.5L169.9 288" stroke="#182a3c" stroke-width="2"/>
<path d="M179.4 285.4L184.6 288.2" stroke="#8ca4ba" stroke-width="1.9"/>
<path d="M179.3 286.3L188.7 290.8" stroke="#8ca4ba" stroke-width="1.3"/>
<path d="M176.8 287.9L166.9 292.9" stroke="#182a3c" stroke-width="1.1"/>
<path d="M177.3 288.9L168.3 293.5" stroke="#182a3c" stroke-width="1.6"/>
<path d="M180.6 287.6L186.1 290" stroke="#182a3c" stroke-width="1.3"/>
<path d="M180.1 288.6L187.7 291.4" stroke="#8ca4ba" stroke-width="1.9"/>
<path d="M175.8 292.5L169.9 295.2" stroke="#182a3c" stroke-width="1.3"/>
<path d="M175.2 291.3L168.6 293.3" stroke="#8ca4ba" stroke-width="1.9"/>
<path d="M178.6 292.3L188.7 295.5" stroke="#3a5268" stroke-width="1"/>
<path d="M180.4 291.8L188.9 295.8" stroke="#8ca4ba" stroke-width="1.5"/>
<path d="M175.6 295.6L168.2 299.5" stroke="#3a5268" stroke-width="1.3"/>
<path d="M175.3 295.2L165 300.4" stroke="#8ca4ba" stroke-width="1.6"/>
<path d="M179.5 295L186.6 299" stroke="#3a5268" stroke-width="1.6"/>
<path d="M179.5 294.7L187.9 298.7" stroke="#8ca4ba" stroke-width="1.3"/>
<path d="M175.8 299.1L169.9 301.4" stroke="#8ca4ba" stroke-width="2"/>
<path d="M176.9 297.7L167.7 301.9" stroke="#8ca4ba" stroke-width="1.9"/>
<path d="M178.9 298.4L188.8 301.1" stroke="#8ca4ba" stroke-width="1.6"/>
<path d="M179.4 299.5L190.4 303.2" stroke="#8ca4ba" stroke-width="1.8"/>
<path d="M176.5 301.8L169.4 304.1" stroke="#8ca4ba" stroke-width="1.6"/>
<path d="M176.1 300.8L166.4 306.2" stroke="#8ca4ba" stroke-width="1.5"/>
<path d="M178.5 301.5L189.7 306" stroke="#3a5268" stroke-width="1.2"/>
<path d="M178.8 301.6L185.6 304.1" stroke="#182a3c" stroke-width="1.9"/>
<path d="M175.1 305.2L166.9 309.4" stroke="#182a3c" stroke-width="1.1"/>
<path d="M174.8 304.8L164.2 308.8" stroke="#8ca4ba" stroke-width="1.9"/>
<path d="M178 304.2L184.8 307.1" stroke="#3a5268" stroke-width="1.9"/>
<path d="M178.4 305.9L188.3 311.4" stroke="#182a3c" stroke-width="1.9"/>
<path d="M175.2 307.7L164.9 313.9" stroke="#8ca4ba" stroke-width="1.4"/>
<path d="M176.2 308.4L166.6 312.4" stroke="#8ca4ba" stroke-width="1.7"/>
<path d="M179.2 309L184.9 311.3" stroke="#8ca4ba" stroke-width="1.5"/>
<path d="M179.9 309.1L192 313.8" stroke="#182a3c" stroke-width="1.5"/>
<path d="M175 312.1L164.8 317.9" stroke="#182a3c" stroke-width="1.9"/>
<path d="M176.6 312L164.4 318.9" stroke="#182a3c" stroke-width="1.6"/>
<path d="M178 312.4L187.8 315" stroke="#3a5268" stroke-width="1.2"/>
<path d="M178.6 311.9L188.6 317.2" stroke="#3a5268" stroke-width="1.1"/>
<path d="M176.4 316.6L170.6 319.3" stroke="#3a5268" stroke-width="1.9"/>
<path d="M176.1 315.7L169.6 318.6" stroke="#3a5268" stroke-width="1.6"/>
<path d="M179.9 316L191.7 321.3" stroke="#8ca4ba" stroke-width="1.9"/>
<path d="M179.9 316.8L188.6 321.5" stroke="#182a3c" stroke-width="1.7"/>
<path d="M175 319.6L165.8 321.9" stroke="#3a5268" stroke-width="1.7"/>
<path d="M174.8 319.8L166.2 324.7" stroke="#8ca4ba" stroke-width="1.7"/>
<path d="M179.3 319L189.5 321.8" stroke="#182a3c" stroke-width="1.3"/>
<path d="M179 319.5L187.5 323.1" stroke="#182a3c" stroke-width="1.1"/>
<path d="M225.8 196.3L225.3 196.6" stroke="#f0f5f9" stroke-width="1.3"/>
<path d="M225.8 195.6L224.9 196.1" stroke="#f0f5f9" stroke-width="1.8"/>
<path d="M226.1 196.8L226.6 197" stroke="#f0f5f9" stroke-width="1.8"/>
<path d="M226 196.1L226.9 196.5" stroke="#f0f5f9" stroke-width="1.7"/>
<path d="M226 198L225.1 198.5" stroke="#eef4f8" stroke-width="2"/>
<path d="M225.8 199.3L224.8 199.8" stroke="#eef4f8" stroke-width="1.6"/>
<path d="M226.1 197.8L227.2 198.4" stroke="#aebcc8" stroke-width="1.2"/>
<path d="M226.1 199.2L227.1 199.6" stroke="#eef4f8" stroke-width="1.8"/>
<path d="M226 201.6L224.9 201.9" stroke="#a8b7c4" stroke-width="1.1"/>
<path d="M225.7 201.2L224.4 201.7" stroke="#a8b7c4" stroke-width="1.4"/>
<path d="M226 201.1L227.4 201.5" stroke="#798b9b" stroke-width="1.9"/>
<path d="M226.1 201.5L226.9 201.9" stroke="#eaf0f5" stroke-width="1.7"/>
<path d="M225.8 205.1L224.2 206" stroke="#e2eaf0" stroke-width="1.3"/>
<path d="M225.6 204.9L224.4 205.3" stroke="#e2eaf0" stroke-width="1"/>
<path d="M226.6 205.1L228 205.6" stroke="#728494" stroke-width="1.4"/>
<path d="M226 204.2L227.3 204.6" stroke="#e2eaf0" stroke-width="1.9"/>
<path d="M225.5 208.6L224 209.1" stroke="#6c7e8e" stroke-width="1.4"/>
<path d="M225.5 208.6L223.6 209.6" stroke="#99a9b7" stroke-width="1.8"/>
<path d="M226.3 208.7L228 209.4" stroke="#6c7e8e" stroke-width="1.3"/>
<path d="M226.5 207.2L229 208.7" stroke="#99a9b7" stroke-width="1.3"/>
<path d="M225.8 210.9L224.3 211.4" stroke="#d7e1e9" stroke-width="1.4"/>
<path d="M225.7 211.1L223.4 211.9" stroke="#d7e1e9" stroke-width="1.4"/>
<path d="M226.2 209.8L227.7 210.6" stroke="#d7e1e9" stroke-width="1.7"/>
<path d="M226.6 210.8L228.2 211.5" stroke="#667889" stroke-width="1.7"/>
<path d="M225.6 213.3L224 213.9" stroke="#607283" stroke-width="1.9"/>
<path d="M225.3 214.6L223.7 215.3" stroke="#d1dce5" stroke-width="1.9"/>
<path d="M227 214.5L229.3 215.8" stroke="#607283" stroke-width="1.1"/>
<path d="M226.3 213L229.4 214.2" stroke="#8c9dac" stroke-width="1"/>
<path d="M225.4 216.9L222 218.1" stroke="#5a6c7d" stroke-width="1.2"/>
<path d="M225.3 215.8L222.1 217.7" stroke="#cbd7e2" stroke-width="2"/>
<path d="M227 217.5L230.7 219" stroke="#cbd7e2" stroke-width="1.3"/>
<path d="M226 216.1L229.8 218.3" stroke="#5a6c7d" stroke-width="1.7"/>
<path d="M224.9 220.6L221.7 222.4" stroke="#c4d1dd" stroke-width="1.4"/>
<path d="M225 220.5L221.7 222.2" stroke="#526475" stroke-width="1.4"/>
<path d="M226 221.4L228.4 222.4" stroke="#c4d1dd" stroke-width="1.5"/>
<path d="M226.3 220.2L228.5 220.9" stroke="#526475" stroke-width="1.2"/>
<path d="M225.2 222.3L220.8 224.4" stroke="#76899a" stroke-width="1.6"/>
<path d="M225.4 222.7L221.3 224.8" stroke="#76899a" stroke-width="1.7"/>
<path d="M226.5 223.6L229 224.6" stroke="#76899a" stroke-width="1.5"/>
<path d="M226.5 223.2L230.6 225.4" stroke="#bfcdda" stroke-width="1.2"/>
<path d="M224.7 226.1L222.1 227.6" stroke="#6f8294" stroke-width="1.2"/>
<path d="M225 226.6L221.2 228.3" stroke="#b9c8d6" stroke-width="2"/>
<path d="M227.2 225.6L229.9 226.8" stroke="#b9c8d6" stroke-width="1.1"/>
<path d="M227.3 226.2L231.3 227.8" stroke="#6f8294" stroke-width="1.6"/>
<path d="M224.6 229.6L221.1 230.9" stroke="#405264" stroke-width="2"/>
<path d="M226 229.1L222.2 231.3" stroke="#b3c3d2" stroke-width="1.2"/>
<path d="M226.2 230.2L231.1 231.8" stroke="#b3c3d2" stroke-width="1.6"/>
<path d="M227.2 229.4L230 230.8" stroke="#405264" stroke-width="1.1"/>
<path d="M225.6 233.3L220.1 235.1" stroke="#607587" stroke-width="1.8"/>
<path d="M225.1 232.4L221.1 234.6" stroke="#607587" stroke-width="1.8"/>
<path d="M227.3 232.3L230.2 233.6" stroke="#acbece" stroke-width="1.9"/>
<path d="M226.8 233.1L229.8 234.2" stroke="#acbece" stroke-width="1.7"/>
<path d="M224.3 236.7L220.1 238.1" stroke="#576d80" stroke-width="2"/>
<path d="M224.8 236.1L219 238.4" stroke="#a5b8c9" stroke-width="1.1"/>
<path d="M226.5 236.2L230.7 238" stroke="#324455" stroke-width="1.9"/>
<path d="M226.8 236.4L233.1 240.1" stroke="#a5b8c9" stroke-width="1.3"/>
<path d="M224.1 241L218.8 244.1" stroke="#9eb2c5" stroke-width="1.9"/>
<path d="M224.6 240.2L219.3 242" stroke="#9eb2c5" stroke-width="1.2"/>
<path d="M226.2 240.1L233.2 243.4" stroke="#9eb2c5" stroke-width="1.2"/>
<path d="M226.5 239.7L230.6 241.7" stroke="#4f6579" stroke-width="1.3"/>
<path d="M225.5 245.3L219.8 247.2" stroke="#233547" stroke-width="1.8"/>
<path d="M224.2 244.2L220.9 245.6" stroke="#233547" stroke-width="1.5"/>
<path d="M226.1 245.2L230.4 246.9" stroke="#465d72" stroke-width="1.6"/>
<path d="M228 245.3L235.6 248.5" stroke="#233547" stroke-width="1.3"/>
<path d="M225.9 247.9L219.6 250.2" stroke="#91a8bd" stroke-width="1.3"/>
<path d="M224.8 247.6L219.9 248.8" stroke="#91a8bd" stroke-width="1.2"/>
<path d="M227 246.9L234.8 251.4" stroke="#91a8bd" stroke-width="1.4"/>
<path d="M226.5 247.4L231.8 249.2" stroke="#40586d" stroke-width="1.6"/>
<path d="M224.8 251.4L217.6 255.6" stroke="#182a3c" stroke-width="1.7"/>
<path d="M225.1 251.2L219.3 253.7" stroke="#3a5268" stroke-width="1.4"/>
<path d="M226 251L231.4 252.9" stroke="#3a5268" stroke-width="1.7"/>
<path d="M228.3 250.8L235.9 253.4" stroke="#182a3c" stroke-width="1.1"/>
<path d="M223.9 253.7L215.4 258.4" stroke="#8ca4ba" stroke-width="1"/>
<path d="M223.6 252.6L218.3 254.5" stroke="#3a5268" stroke-width="1.2"/>
<path d="M226.3 252.7L234.5 257.6" stroke="#8ca4ba" stroke-width="1.2"/>
<path d="M228.2 253.2L234.1 255.8" stroke="#182a3c" stroke-width="1.6"/>
<path d="M224.6 256.2L220.5 258.5" stroke="#8ca4ba" stroke-width="1.1"/>
<path d="M224.3 256.2L218 259.2" stroke="#8ca4ba" stroke-width="1.3"/>
<path d="M227.9 257.8L232.2 260" stroke="#8ca4ba" stroke-width="1.2"/>
<path d="M228.2 258.1L237.3 261.7" stroke="#182a3c" stroke-width="1.7"/>
<path d="M223.8 260.8L216.7 263.2" stroke="#3a5268" stroke-width="1"/>
<path d="M225.1 260.1L217.1 264.3" stroke="#3a5268" stroke-width="1.3"/>
<path d="M228.6 260.6L238 264.8" stroke="#8ca4ba" stroke-width="1.4"/>
<path d="M227.4 261.7L237.2 264.3" stroke="#8ca4ba" stroke-width="1.1"/>
<path d="M223.1 263.8L214.4 267.8" stroke="#8ca4ba" stroke-width="1.4"/>
<path d="M224.8 262.5L219.7 265.2" stroke="#3a5268" stroke-width="1.4"/>
<path d="M226.9 264L236.2 268.7" stroke="#3a5268" stroke-width="1.6"/>
<path d="M228.6 264.3L236.7 267.8" stroke="#182a3c" stroke-width="1.2"/>
<path d="M224.1 266.3L214.1 271.9" stroke="#8ca4ba" stroke-width="1.3"/>
<path d="M225.7 267.4L215.3 270.8" stroke="#182a3c" stroke-width="1.2"/>
<path d="M227.5 267L232.7 269.7" stroke="#8ca4ba" stroke-width="1.3"/>
<path d="M227.7 266.3L234.1 269.2" stroke="#182a3c" stroke-width="1.7"/>
<path d="M225.7 269.8L217.9 273.8" stroke="#8ca4ba" stroke-width="1.6"/>
<path d="M225.1 269.5L214.6 274.6" stroke="#8ca4ba" stroke-width="1.3"/>
<path d="M227.6 269.2L236.3 271.9" stroke="#3a5268" stroke-width="1.9"/>
<path d="M228.2 269.9L234.2 272" stroke="#8ca4ba" stroke-width="1.8"/>
<path d="M224.4 271.6L216 275" stroke="#8ca4ba" stroke-width="1.4"/>
<path d="M224.2 273L219.1 275.8" stroke="#182a3c" stroke-width="1.3"/>
<path d="M227.2 272.8L237.3 277" stroke="#3a5268" stroke-width="1.4"/>
<path d="M227.5 273L238.7 276.5" stroke="#3a5268" stroke-width="1.2"/>
<path d="M223.8 275.6L216.1 278.2" stroke="#182a3c" stroke-width="1"/>
<path d="M225.6 274.6L217.3 277.3" stroke="#182a3c" stroke-width="1"/>
<path d="M228 276.1L237.9 281.5" stroke="#8ca4ba" stroke-width="1.9"/>
<path d="M226.4 274.9L232.4 277.9" stroke="#3a5268" stroke-width="1.7"/>
<path d="M224.9 279.1L216.3 282.9" stroke="#3a5268" stroke-width="1.4"/>
<path d="M225.7 277.6L219.6 280.6" stroke="#8ca4ba" stroke-width="1.5"/>
<path d="M226.5 277.9L234.1 281.1" stroke="#182a3c" stroke-width="1.8"/>
<path d="M227 277.6L235.3 280.7" stroke="#3a5268" stroke-width="2"/>
<path d="M224.6 280.8L217.8 282.6" stroke="#8ca4ba" stroke-width="1.6"/>
<path d="M223.1 281L217.6 283.3" stroke="#182a3c" stroke-width="1.5"/>
<path d="M226.8 279.8L238.9 284.6" stroke="#3a5268" stroke-width="1.7"/>
<path d="M228.5 280.2L234.8 283.9" stroke="#182a3c" stroke-width="1.8"/>
<path d="M225.9 283L219.9 284.6" stroke="#8ca4ba" stroke-width="1.1"/>
<path d="M224.3 282.6L211.5 286.5" stroke="#8ca4ba" stroke-width="1.1"/>
<path d="M229.4 283.7L240.8 286.9" stroke="#3a5268" stroke-width="1.9"/>
<path d="M228.9 282.1L237.3 285.8" stroke="#3a5268" stroke-width="1.4"/>
<path d="M222.9 285.2L210 291.8" stroke="#8ca4ba" stroke-width="1.6"/>
<path d="M223.7 285.5L212.7 291.5" stroke="#8ca4ba" stroke-width="1.1"/>
<path d="M226.6 286.2L233.4 288.1" stroke="#182a3c" stroke-width="1.6"/>
<path d="M229.6 286.6L235.8 288.7" stroke="#3a5268" stroke-width="1.2"/>
<path d="M222.6 287.7L216.2 289.8" stroke="#8ca4ba" stroke-width="1.3"/>
<path d="M225.2 287.6L212.1 291.2" stroke="#3a5268" stroke-width="1.1"/>
<path d="M229.6 287.8L241.8 292.9" stroke="#182a3c" stroke-width="1.5"/>
<path d="M229.5 289.3L237.8 292" stroke="#182a3c" stroke-width="1"/>
<path d="M222 291L213.2 293.8" stroke="#8ca4ba" stroke-width="1.5"/>
<path d="M225.5 291L213.2 295.1" stroke="#8ca4ba" stroke-width="1.9"/>
<path d="M226.8 291.6L237 295" stroke="#3a5268" stroke-width="1.3"/>
<path d="M226.9 292.3L237.9 298.6" stroke="#182a3c" stroke-width="1.1"/>
<path d="M225.7 295.9L212.7 299.7" stroke="#8ca4ba" stroke-width="1"/>
<path d="M225.9 295L212.6 301" stroke="#3a5268" stroke-width="2"/>
<path d="M226 294.8L237.2 298.2" stroke="#182a3c" stroke-width="1.2"/>
<path d="M227.8 294.9L239.5 300" stroke="#8ca4ba" stroke-width="1.6"/>
<path d="M222.5 297.5L209.2 304.7" stroke="#8ca4ba" stroke-width="2"/>
<path d="M225.2 298.4L213.9 303.3" stroke="#3a5268" stroke-width="1.4"/>
<path d="M228.3 298.9L239.7 303.1" stroke="#3a5268" stroke-width="1"/>
<path d="M226.2 299.1L239 304.6" stroke="#3a5268" stroke-width="1.4"/>
<path d="M225.3 301.6L217.9 304.3" stroke="#3a5268" stroke-width="1.5"/>
<path d="M223.2 300.6L208 307.9" stroke="#8ca4ba" stroke-width="1.2"/>
<path d="M229.9 302.1L239.7 306.2" stroke="#182a3c" stroke-width="1.5"/>
<path d="M229.1 302.3L237 306.1" stroke="#8ca4ba" stroke-width="1.5"/>
<path d="M225.7 305.1L216.8 309.6" stroke="#3a5268" stroke-width="1.7"/>
<path d="M223.9 303.7L210.9 309.1" stroke="#3a5268" stroke-width="1.4"/>
<path d="M228.6 304.5L237.4 307.3" stroke="#8ca4ba" stroke-width="1.8"/>
<path d="M229.3 304.8L244.8 312.6" stroke="#8ca4ba" stroke-width="1.6"/>
<path d="M225.5 308.2L209.6 312.9" stroke="#8ca4ba" stroke-width="1.6"/>
<path d="M221.9 307.8L206.4 315.2" stroke="#182a3c" stroke-width="1.3"/>
<path d="M228.7 306.7L236 309.7" stroke="#182a3c" stroke-width="2"/>
<path d="M230.2 306.7L238.3 310.2" stroke="#182a3c" stroke-width="1.7"/>
<path d="M225.2 310.9L209.7 320.1" stroke="#182a3c" stroke-width="1.1"/>
<path d="M225.5 309.9L214.8 314.1" stroke="#8ca4ba" stroke-width="1.5"/>
<path d="M229.1 309.8L244.1 314.2" stroke="#8ca4ba" stroke-width="1.8"/>
<path d="M228.6 309.6L238.2 314.3" stroke="#8ca4ba" stroke-width="1.5"/>
<path d="M225 313.6L212.8 320.8" stroke="#8ca4ba" stroke-width="1.1"/>
<path d="M224.4 314L214.4 316.6" stroke="#8ca4ba" stroke-width="1.5"/>
<path d="M227 313.6L238.8 318.2" stroke="#182a3c" stroke-width="1.2"/>
<path d="M226.6 312.5L239 319.7" stroke="#182a3c" stroke-width="1.7"/>
<path d="M224.9 315.8L210.8 320.4" stroke="#8ca4ba" stroke-width="1.4"/>
<path d="M224.7 316.1L212.2 322.7" stroke="#182a3c" stroke-width="1.3"/>
<path d="M226.5 316.7L239.6 322.8" stroke="#8ca4ba" stroke-width="1.8"/>
<path d="M230.8 316L244.3 320.1" stroke="#182a3c" stroke-width="1.8"/>
<path d="M225.1 319.1L213 326.3" stroke="#8ca4ba" stroke-width="1.4"/>
<path d="M221 319.2L204.6 326.5" stroke="#3a5268" stroke-width="1.7"/>
<path d="M230.6 319.3L247.5 326.2" stroke="#182a3c" stroke-width="1.7"/>
<path d="M226.5 319.6L244.2 329" stroke="#8ca4ba" stroke-width="1"/>
<path d="M194.7 154.4L193.9 154.8" stroke="#f0f5f9" stroke-width="1.2"/>
<path d="M194.9 154.5L194.2 154.7" stroke="#b0beca" stroke-width="1.2"/>
<path d="M195.2 154.7L196 155.1" stroke="#f0f5f9" stroke-width="1.3"/>
<path d="M195.4 154.6L196.1 155" stroke="#8092a2" stroke-width="1.7"/>
<path d="M194.9 158.5L193.1 159.2" stroke="#8092a2" stroke-width="1.6"/>
<path d="M194.8 157.7L193.5 158.2" stroke="#f0f5f9" stroke-width="1.8"/>
<path d="M195.6 158.2L197.3 159" stroke="#b0beca" stroke-width="1.1"/>
<path d="M195.2 157.2L196.8 157.7" stroke="#b0beca" stroke-width="1.3"/>
<path d="M194.7 160.2L192.9 160.9" stroke="#f0f5f9" stroke-width="1.2"/>
<path d="M194.8 160.1L193.5 160.7" stroke="#8092a2" stroke-width="1.4"/>
<path d="M195.6 160L197.6 160.6" stroke="#8092a2" stroke-width="1.8"/>
<path d="M195.1 160.7L197 161.8" stroke="#8092a2" stroke-width="1.8"/>
<path d="M194.7 164.1L192.2 164.8" stroke="#8092a2" stroke-width="1.6"/>
<path d="M194.8 163.9L192.5 164.9" stroke="#b0beca" stroke-width="1.4"/>
<path d="M195.3 163.2L197.6 163.9" stroke="#b0beca" stroke-width="1.1"/>
<path d="M195.1 163.9L196.6 164.6" stroke="#b0beca" stroke-width="1"/>
<path d="M194.9 165.7L193 166.9" stroke="#f0f5f9" stroke-width="1.3"/>
<path d="M194.5 165.8L192.6 166.6" stroke="#f0f5f9" stroke-width="1.8"/>
<path d="M195.3 166.7L196.7 167.5" stroke="#b0beca" stroke-width="1.5"/>
<path d="M195.3 165.7L197.8 166.8" stroke="#8092a2" stroke-width="1.7"/>
<path d="M194.2 169L191.3 170.3" stroke="#f0f5f9" stroke-width="1.2"/>
<path d="M194.8 169.2L192.7 169.7" stroke="#f0f5f9" stroke-width="1.1"/>
<path d="M195.6 168.5L198.6 170" stroke="#f0f5f9" stroke-width="1.5"/>
<path d="M195.3 169L197.9 170.1" stroke="#f0f5f9" stroke-width="1.9"/>
<path d="M194.8 171.6L191.3 173" stroke="#f0f5f9" stroke-width="1.1"/>
<path d="M194.5 172.8L192.1 174.2" stroke="#f0f5f9" stroke-width="1.5"/>
<path d="M195.9 171.7L197.8 172.8" stroke="#b0beca" stroke-width="1.1"/>
<path d="M195.3 172.8L196.9 173.3" stroke="#b0beca" stroke-width="1.4"/>
<path d="M194.7 175.4L191 177.2" stroke="#8092a2" stroke-width="1.5"/>
<path d="M194.5 175.1L190.4 177" stroke="#8092a2" stroke-width="1.9"/>
<path d="M195.2 175L197.3 176.1" stroke="#b0beca" stroke-width="1.3"/>
<path d="M195.4 174.1L199.5 175.2" stroke="#f0f5f9" stroke-width="1.7"/>
<path d="M193.9 178.5L190 180.6" stroke="#f0f5f9" stroke-width="1.6"/>
<path d="M194.1 177.1L189.9 179.2" stroke="#f0f5f9" stroke-width="1.3"/>
<path d="M195.6 177L200.2 179.4" stroke="#b0beca" stroke-width="1"/>
<path d="M195.3 177.2L197.4 178.4" stroke="#f0f5f9" stroke-width="1.9"/>
<path d="M193.6 181.7L190.2 183.1" stroke="#f0f5f9" stroke-width="1.5"/>
<path d="M194.2 180.6L189.4 182.4" stroke="#b0beca" stroke-width="1.2"/>
<path d="M195 181.8L198.9 183" stroke="#f0f5f9" stroke-width="1.6"/>
<path d="M196.3 181.2L199.3 182.5" stroke="#8092a2" stroke-width="1.2"/>
<path d="M194.3 185.6L189.9 186.8" stroke="#8092a2" stroke-width="1.1"/>
<path d="M194.8 183.8L189.7 186" stroke="#8092a2" stroke-width="1.3"/>
<path d="M196 184.2L199.9 185.9" stroke="#f0f5f9" stroke-width="1.4"/>
<path d="M195.5 184.1L200.3 185.4" stroke="#b0beca" stroke-width="1.4"/>
<path d="M194.8 189.3L189.7 192.3" stroke="#8092a2" stroke-width="1.8"/>
<path d="M193.8 188.8L188.8 191.1" stroke="#f0f5f9" stroke-width="1.1"/>
<path d="M196 187.6L201.1 190" stroke="#b0beca" stroke-width="1.5"/>
<path d="M196.5 188.2L201.8 191.1" stroke="#b0beca" stroke-width="1.6"/>
<path d="M194.2 192.4L188 194.7" stroke="#b0beca" stroke-width="1.9"/>
<path d="M194.3 190.7L189 192.9" stroke="#f0f5f9" stroke-width="1.8"/>
<path d="M196.8 191.4L202.4 193.6" stroke="#b0beca" stroke-width="1.7"/>
<path d="M195.4 190.8L198.4 191.9" stroke="#f0f5f9" stroke-width="2"/>
<path d="M194.4 193.6L187.9 197.5" stroke="#f0f5f9" stroke-width="1.1"/>
<path d="M194.9 194L191.5 195.1" stroke="#f0f5f9" stroke-width="1"/>
<path d="M195.1 193.7L200.7 196.2" stroke="#8092a2" stroke-width="1.7"/>
<path d="M196.4 194.8L202 197.9" stroke="#f0f5f9" stroke-width="1.1"/>
<path d="M193.9 198.1L188.7 199.7" stroke="#b0beca" stroke-width="1.4"/>
<path d="M194.5 197.1L189.7 199.3" stroke="#b0beca" stroke-width="1.9"/>
<path d="M196.5 196.7L200.7 198.8" stroke="#f0f5f9" stroke-width="1.9"/>
<path d="M195.5 198.2L202.6 200.5" stroke="#f0f5f9" stroke-width="1.1"/>
<path d="M193.5 200.8L189.7 202.2" stroke="#aab8c5" stroke-width="1.2"/>
<path d="M194.2 199.6L189.5 202.3" stroke="#eaf0f5" stroke-width="1.1"/>
<path d="M196.8 200.5L203.5 203.2" stroke="#eaf0f5" stroke-width="1"/>
<path d="M195.5 199.9L201.1 203.1" stroke="#eaf0f5" stroke-width="1.4"/>
<path d="M194.8 204.6L187.8 207.7" stroke="#a2b1be" stroke-width="1.9"/>
<path d="M193.6 204.7L186.4 207.7" stroke="#a2b1be" stroke-width="1.8"/>
<path d="M195.9 203.2L202.2 206.5" stroke="#e4ebf1" stroke-width="1.4"/>
<path d="M196.3 203.9L201.1 206.5" stroke="#a2b1be" stroke-width="1.6"/>
<path d="M193.7 208.2L187.8 211.1" stroke="#99a9b7" stroke-width="1.9"/>
<path d="M193.6 207.1L187.2 209.2" stroke="#dde5ed" stroke-width="1.5"/>
<path d="M195.1 207.4L203.2 211.5" stroke="#99a9b7" stroke-width="1.8"/>
<path d="M196.9 207.6L201.4 209.6" stroke="#dde5ed" stroke-width="1.4"/>
<path d="M193.5 211.2L185.9 213.2" stroke="#91a2b0" stroke-width="1.4"/>
<path d="M193.4 211.1L185.8 215.4" stroke="#d6e0e8" stroke-width="2"/>
<path d="M197.5 211.5L201.8 213.2" stroke="#657787" stroke-width="1.5"/>
<path d="M195.2 211.9L201.7 215" stroke="#d6e0e8" stroke-width="1.1"/>
<path d="M192.6 214.3L183.5 216.7" stroke="#5f7181" stroke-width="1.2"/>
<path d="M193.7 215.3L185.6 217.7" stroke="#5f7181" stroke-width="1.7"/>
<path d="M196.5 213.9L200.7 216" stroke="#5f7181" stroke-width="1.7"/>
<path d="M196.6 213.8L203.4 216.6" stroke="#d0dbe5" stroke-width="1.7"/>
<path d="M194.5 217L187.4 218.9" stroke="#cbd7e2" stroke-width="1.6"/>
<path d="M192.5 217.2L184.3 222.1" stroke="#cbd7e2" stroke-width="1.6"/>
<path d="M195.5 216.1L203.2 218.7" stroke="#8596a6" stroke-width="1.8"/>
<path d="M196.6 216L204.8 220.1" stroke="#8596a6" stroke-width="1.2"/>
<path d="M194.1 220.1L188.3 223.1" stroke="#c5d2de" stroke-width="1.4"/>
<path d="M193 220.8L187.3 222.8" stroke="#7d8fa0" stroke-width="1.5"/>
<path d="M195.8 220.2L201.5 223.3" stroke="#7d8fa0" stroke-width="1"/>
<path d="M196.7 220L205.7 223" stroke="#c5d2de" stroke-width="1.7"/>
<path d="M192.3 222.9L187 224.3" stroke="#4e6071" stroke-width="1.1"/>
<path d="M193.1 223.3L186.4 227.1" stroke="#bfceda" stroke-width="1.6"/>
<path d="M196.4 223.4L206.3 227.5" stroke="#778a9a" stroke-width="2"/>
<path d="M197.2 222.7L203.8 226.4" stroke="#4e6071" stroke-width="1.9"/>
<path d="M192 226L183.5 229.8" stroke="#b8c8d6" stroke-width="1.6"/>
<path d="M194.1 227.3L185 230.9" stroke="#b8c8d6" stroke-width="1.2"/>
<path d="M196.2 225.8L204.6 228.8" stroke="#465869" stroke-width="1.5"/>
<path d="M196.4 225.8L205.4 230" stroke="#b8c8d6" stroke-width="1.1"/>
<path d="M195 230.9L185.6 233.3" stroke="#b2c3d2" stroke-width="1.3"/>
<path d="M192.6 230.5L182.3 234.6" stroke="#3f5163" stroke-width="1.1"/>
<path d="M195.2 229.3L206.4 235.1" stroke="#3f5163" stroke-width="1.7"/>
<path d="M197.9 230L204.4 232.2" stroke="#b2c3d2" stroke-width="2"/>
<path d="M193.8 233.3L187.2 236.8" stroke="#3b4d5e" stroke-width="1.6"/>
<path d="M192.5 231.9L187.3 234.9" stroke="#3b4d5e" stroke-width="1.1"/>
<path d="M195.8 231.7L205.9 237.3" stroke="#adbfcf" stroke-width="1.3"/>
<path d="M195.2 232.3L204.1 236.6" stroke="#3b4d5e" stroke-width="1.1"/>
<path d="M194.3 235.9L188.2 237.8" stroke="#a6b9ca" stroke-width="1.7"/>
<path d="M194.3 236.3L186.2 238.6" stroke="#596e81" stroke-width="2"/>
<path d="M196.5 236L205.1 239.3" stroke="#a6b9ca" stroke-width="1.2"/>
<path d="M197.4 236.2L204.8 238.2" stroke="#a6b9ca" stroke-width="1.8"/>
<path d="M192.8 239.4L181.2 243.7" stroke="#52687c" stroke-width="1.4"/>
<path d="M191.6 238.4L182.3 241.4" stroke="#2d3f51" stroke-width="1.9"/>
<path d="M198.1 238.4L209.5 244.1" stroke="#a0b4c7" stroke-width="1.8"/>
<path d="M196.8 239.2L205.1 241.9" stroke="#52687c" stroke-width="1.9"/>
<path d="M193.6 241.6L184.7 244.7" stroke="#27394b" stroke-width="2"/>
<path d="M193.9 241.9L185.5 246.6" stroke="#9ab0c3" stroke-width="1.2"/>
<path d="M195.3 241.5L203.3 244.2" stroke="#4b6276" stroke-width="1.9"/>
<path d="M196.1 242.4L203.7 244.4" stroke="#9ab0c3" stroke-width="1.6"/>
<path d="M193.4 244.4L184.8 247.3" stroke="#94abbf" stroke-width="1.2"/>
<path d="M191.8 244.4L185.5 246.9" stroke="#94abbf" stroke-width="1.2"/>
<path d="M198.7 246.3L210.4 250.6" stroke="#445b70" stroke-width="1.4"/>
<path d="M196.6 245.6L203.1 248.1" stroke="#213345" stroke-width="1.4"/>
<path d="M192.7 247.7L179.6 255.1" stroke="#3e556b" stroke-width="1.6"/>
<path d="M191.6 248.6L181.9 252.6" stroke="#8fa6bc" stroke-width="1.8"/>
<path d="M197.4 248.9L210.1 254.4" stroke="#8fa6bc" stroke-width="1.3"/>
<path d="M195.6 249L203.7 252.6" stroke="#8fa6bc" stroke-width="1.2"/>
<path d="M191.5 251.7L178.7 256.2" stroke="#8ca4ba" stroke-width="1.9"/>
<path d="M192.3 250.3L183 254.2" stroke="#3a5268" stroke-width="1.9"/>
<path d="M198.1 250.9L212.1 258.7" stroke="#182a3c" stroke-width="1.1"/>
<path d="M197.3 250.8L206.9 254" stroke="#182a3c" stroke-width="1.2"/>
<path d="M193 255.4L186.5 257" stroke="#8ca4ba" stroke-width="1.9"/>
<path d="M192.9 254L178.8 259" stroke="#3a5268" stroke-width="1.6"/>
<path d="M197.9 253.6L208 257.5" stroke="#182a3c" stroke-width="1.9"/>
<path d="M198.3 255.2L208.7 259.7" stroke="#8ca4ba" stroke-width="1.1"/>
<path d="M192.7 256.9L183.2 262.5" stroke="#8ca4ba" stroke-width="1.6"/>
<path d="M193.5 257.3L181.5 262.6" stroke="#8ca4ba" stroke-width="1.1"/>
<path d="M195.2 258.6L203.2 261.2" stroke="#182a3c" stroke-width="1.6"/>
<path d="M197 257.4L211.9 261.5" stroke="#3a5268" stroke-width="1.7"/>
<path d="M194.6 261.6L179.7 268.9" stroke="#182a3c" stroke-width="1.3"/>
<path d="M194.9 261.4L179.8 266.9" stroke="#3a5268" stroke-width="1.2"/>
<path d="M196.6 261.2L206.7 265.2" stroke="#8ca4ba" stroke-width="1.2"/>
<path d="M199.4 262L210.4 265.3" stroke="#3a5268" stroke-width="1.1"/>
<path d="M193.4 263.4L177.4 270.5" stroke="#3a5268" stroke-width="1.5"/>
<path d="M192.6 263.9L177.1 268.9" stroke="#3a5268" stroke-width="1.7"/>
<path d="M196.8 263.7L208.3 269.9" stroke="#182a3c" stroke-width="1.6"/>
<path d="M196.5 263.5L209.9 267.1" stroke="#3a5268" stroke-width="1.9"/>
<path d="M190.9 267.4L177.5 272.8" stroke="#8ca4ba" stroke-width="1.8"/>
<path d="M192.5 268.2L178.9 275.9" stroke="#8ca4ba" stroke-width="1.2"/>
<path d="M198.4 267.1L209.9 271.7" stroke="#3a5268" stroke-width="1.3"/>
<path d="M195.3 267.4L208.7 273.8" stroke="#182a3c" stroke-width="1.5"/>
<path d="M191.9 270.9L178.1 275.8" stroke="#8ca4ba" stroke-width="1.9"/>
<path d="M191.8 271.5L177 276.8" stroke="#8ca4ba" stroke-width="1.5"/>
<path d="M198.1 271.7L210 276.3" stroke="#8ca4ba" stroke-width="1.7"/>
<path d="M197.7 271.2L213.6 280.1" stroke="#182a3c" stroke-width="1"/>
<path d="M192.2 274.9L183.8 279.9" stroke="#8ca4ba" stroke-width="1"/>
<path d="M192.7 274.8L175.6 281.6" stroke="#8ca4ba" stroke-width="1"/>
<path d="M196.1 274.8L209.1 282.7" stroke="#182a3c" stroke-width="1.3"/>
<path d="M195.6 275.1L206.4 278.5" stroke="#8ca4ba" stroke-width="1.9"/>
<path d="M193.9 277.4L177.1 285" stroke="#3a5268" stroke-width="1.2"/>
<path d="M192.1 278.1L179.3 282.7" stroke="#8ca4ba" stroke-width="1.1"/>
<path d="M195.3 278.8L204 281.7" stroke="#3a5268" stroke-width="1.1"/>
<path d="M195.1 278.7L211.9 286" stroke="#182a3c" stroke-width="1.9"/>
<path d="M193.7 279.6L185.4 284.2" stroke="#8ca4ba" stroke-width="1.7"/>
<path d="M191.3 281.5L173.7 289.9" stroke="#8ca4ba" stroke-width="2"/>
<path d="M197.9 280.3L208 284.8" stroke="#8ca4ba" stroke-width="2"/>
<path d="M198.6 280.5L216.8 291.1" stroke="#182a3c" stroke-width="1"/>
<path d="M194.5 283.7L185.3 287.2" stroke="#3a5268" stroke-width="2"/>
<path d="M191.5 284.2L181.9 287.1" stroke="#182a3c" stroke-width="1.9"/>
<path d="M199.7 284.1L211.4 289.8" stroke="#182a3c" stroke-width="1.6"/>
<path d="M195.3 284.2L207.2 289.6" stroke="#8ca4ba" stroke-width="1.6"/>
<path d="M192.4 286.6L181.5 292.1" stroke="#8ca4ba" stroke-width="1.3"/>
<path d="M193.5 286L177.3 293.5" stroke="#8ca4ba" stroke-width="1.6"/>
<path d="M200.3 287.2L219 298.3" stroke="#182a3c" stroke-width="1.4"/>
<path d="M195.7 286.1L214 293.9" stroke="#8ca4ba" stroke-width="1.6"/>
<path d="M190.9 289L180.2 293.5" stroke="#8ca4ba" stroke-width="1.9"/>
<path d="M192.9 290.3L182.9 293.9" stroke="#182a3c" stroke-width="1.1"/>
<path d="M195.1 290L204.3 293.8" stroke="#3a5268" stroke-width="1.5"/>
<path d="M196.2 289.2L214.3 295.3" stroke="#182a3c" stroke-width="1.8"/>
<path d="M189.4 293.4L180.9 296.3" stroke="#3a5268" stroke-width="1"/>
<path d="M194 292.8L179.8 297.2" stroke="#3a5268" stroke-width="1.3"/>
<path d="M200.4 292.5L214.3 300.7" stroke="#3a5268" stroke-width="1.2"/>
<path d="M199.6 293L211 296.4" stroke="#182a3c" stroke-width="1.3"/>
<path d="M189.7 295L170.7 300.7" stroke="#8ca4ba" stroke-width="1.6"/>
<path d="M191.2 296.2L171.4 306.9" stroke="#3a5268" stroke-width="1.4"/>
<path d="M198.6 296.5L216.5 307.2" stroke="#3a5268" stroke-width="1.3"/>
<path d="M198.4 295.3L208.6 299" stroke="#3a5268" stroke-width="1.7"/>
<path d="M191.1 299.4L176.8 307.5" stroke="#3a5268" stroke-width="1.8"/>
<path d="M190 298.1L178.2 304.4" stroke="#8ca4ba" stroke-width="1.6"/>
<path d="M196 299.6L208.1 303.2" stroke="#3a5268" stroke-width="1.1"/>
<path d="M197.3 299.3L208.7 304.7" stroke="#8ca4ba" stroke-width="1.9"/>
<path d="M192.6 301.8L181.3 307.2" stroke="#182a3c" stroke-width="1.4"/>
<path d="M190.9 300.9L174.1 307.2" stroke="#8ca4ba" stroke-width="1.6"/>
<path d="M195.8 301L211.2 306.6" stroke="#8ca4ba" stroke-width="1.8"/>
<path d="M199.4 301L219.2 310" stroke="#8ca4ba" stroke-width="1.2"/>
<path d="M191.4 304.4L174.9 309.5" stroke="#3a5268" stroke-width="1.7"/>
<path d="M192.7 304.2L172.9 315.3" stroke="#8ca4ba" stroke-width="1.6"/>
<path d="M199.9 304.7L210.3 307.6" stroke="#8ca4ba" stroke-width="1.9"/>
<path d="M198.6 304.5L211.5 309.5" stroke="#8ca4ba" stroke-width="1.7"/>
<path d="M190 308.1L175.4 313.3" stroke="#8ca4ba" stroke-width="1.8"/>
<path d="M189.4 307L174.5 311" stroke="#8ca4ba" stroke-width="1.9"/>
<path d="M201.1 307.9L217.6 316" stroke="#8ca4ba" stroke-width="1.4"/>
<path d="M197.1 306.7L206.7 312.2" stroke="#8ca4ba" stroke-width="1.3"/>
<path d="M190.6 309.5L179.2 314.4" stroke="#182a3c" stroke-width="1.7"/>
<path d="M190.3 310L178.1 315.6" stroke="#3a5268" stroke-width="1.9"/>
<path d="M195.4 310.4L212.4 318.6" stroke="#8ca4ba" stroke-width="1.8"/>
<path d="M199.6 309.6L220.9 321.1" stroke="#8ca4ba" stroke-width="1.1"/>
<path d="M190.9 313L174.5 320" stroke="#8ca4ba" stroke-width="1.7"/>
<path d="M193.7 312.8L176.8 319.7" stroke="#182a3c" stroke-width="1.7"/>
<path d="M199.9 312.7L222.2 323.5" stroke="#8ca4ba" stroke-width="1.6"/>
<path d="M195.8 312.5L218.2 321.5" stroke="#3a5268" stroke-width="1.2"/>
<path d="M188.7 315.3L177.4 320.7" stroke="#3a5268" stroke-width="1.6"/>
<path d="M192.6 316.9L179.2 322.4" stroke="#3a5268" stroke-width="2"/>
<path d="M200.3 316.3L216.5 325.1" stroke="#3a5268" stroke-width="1.1"/>
<path d="M196.8 315.6L209.6 321.4" stroke="#8ca4ba" stroke-width="1.4"/>
<path d="M191.8 318L168.7 329.1" stroke="#8ca4ba" stroke-width="1.1"/>
<path d="M190.6 318.3L168 324.9" stroke="#3a5268" stroke-width="1.2"/>
<path d="M196.9 318.8L211.2 323.6" stroke="#8ca4ba" stroke-width="1.8"/>
<path d="M195.8 317.7L212.9 327.4" stroke="#3a5268" stroke-width="1.5"/>
<path d="M194.3 321.7L183.8 326.9" stroke="#8ca4ba" stroke-width="1.6"/>
<path d="M192.3 322.6L171.3 328.2" stroke="#3a5268" stroke-width="1.4"/>
<path d="M197.7 322.6L217 333.6" stroke="#182a3c" stroke-width="1.8"/>
<path d="M201.5 322.2L221.3 327.2" stroke="#182a3c" stroke-width="1.4"/>
</g>
<path d="M138 338 L150 331 L172 320 L186 312 L196 305 L204 301 L226 296 L226 338Z" fill="#dde8f2"/>
<path d="M138 338 L150 332 L176 321 L196 316 L182 338Z" fill="#b4cde4"/>
<g fill="none" stroke-linecap="round" filter="url(#soft)">
<path d="M190 279.8L189.8 279.9" stroke="#8ca4ba" stroke-width="1.1"/>
<path d="M189.9 279.3L189.6 279.4" stroke="#3a5268" stroke-width="1.1"/>
<path d="M190.1 279.8L190.4 280" stroke="#8ca4ba" stroke-width="1"/>
<path d="M190.1 279.4L190.5 279.6" stroke="#3a5268" stroke-width="2"/>
<path d="M189.8 281.9L189.4 282.2" stroke="#182a3c" stroke-width="1.4"/>
<path d="M189.8 282.8L189.3 282.9" stroke="#3a5268" stroke-width="1.9"/>
<path d="M190.1 282.4L190.8 282.8" stroke="#8ca4ba" stroke-width="1.6"/>
<path d="M190 281.5L190.5 281.7" stroke="#3a5268" stroke-width="1.6"/>
<path d="M189.6 285.2L188.2 286" stroke="#3a5268" stroke-width="1.2"/>
<path d="M189.8 284.6L188.6 284.9" stroke="#8ca4ba" stroke-width="1.9"/>
<path d="M190.3 283.4L191.4 283.9" stroke="#182a3c" stroke-width="1.6"/>
<path d="M190.1 284.2L191.5 284.9" stroke="#3a5268" stroke-width="1.8"/>
<path d="M189.9 287.4L189 287.7" stroke="#8ca4ba" stroke-width="1.3"/>
<path d="M189.5 286.4L187.9 287" stroke="#182a3c" stroke-width="1.3"/>
<path d="M190.3 286.7L191.6 287" stroke="#8ca4ba" stroke-width="1.1"/>
<path d="M190.4 287.4L192 288.2" stroke="#8ca4ba" stroke-width="1.8"/>
<path d="M190 288.7L188.4 289.3" stroke="#8ca4ba" stroke-width="1"/>
<path d="M189.4 288.1L188.1 288.7" stroke="#8ca4ba" stroke-width="1.2"/>
<path d="M190.2 288.4L192.4 289.3" stroke="#3a5268" stroke-width="1.5"/>
<path d="M190.3 289L192.6 290.2" stroke="#3a5268" stroke-width="1.7"/>
<path d="M189.9 291.6L188.4 292.4" stroke="#182a3c" stroke-width="1.7"/>
<path d="M189.9 291.8L187.6 292.4" stroke="#3a5268" stroke-width="1.1"/>
<path d="M190.3 290.9L192.2 291.9" stroke="#3a5268" stroke-width="1.2"/>
<path d="M190.6 291.7L193.2 292.4" stroke="#3a5268" stroke-width="1.9"/>
<path d="M189.2 292.6L187.4 293.4" stroke="#182a3c" stroke-width="1.4"/>
<path d="M189.8 292.6L188 293.5" stroke="#3a5268" stroke-width="1.8"/>
<path d="M190.2 293.2L191.8 293.8" stroke="#3a5268" stroke-width="1.9"/>
<path d="M190.2 292L192.1 292.8" stroke="#3a5268" stroke-width="1.5"/>
<path d="M189.6 295L188 295.6" stroke="#182a3c" stroke-width="1.6"/>
<path d="M189.2 294L186.7 295.1" stroke="#182a3c" stroke-width="1.5"/>
<path d="M190.1 294.7L192.4 295.4" stroke="#3a5268" stroke-width="1.5"/>
<path d="M190.7 294.6L194.3 296.5" stroke="#3a5268" stroke-width="1.4"/>
<path d="M189.7 296.6L186.6 298.3" stroke="#8ca4ba" stroke-width="1.7"/>
<path d="M188.9 297.2L186.9 297.9" stroke="#182a3c" stroke-width="1.8"/>
<path d="M190.3 296.8L192.2 297.9" stroke="#8ca4ba" stroke-width="1"/>
<path d="M190.1 296.6L192.6 297.7" stroke="#3a5268" stroke-width="1.1"/>
<path d="M189.4 298.4L185.4 300.1" stroke="#3a5268" stroke-width="1.9"/>
<path d="M189.1 298.1L185 299.4" stroke="#8ca4ba" stroke-width="1.9"/>
<path d="M190.7 299.2L192.8 300" stroke="#3a5268" stroke-width="1.4"/>
<path d="M190.9 299.1L195.3 300.3" stroke="#3a5268" stroke-width="1.5"/>
<path d="M189 301.2L184.5 303.5" stroke="#182a3c" stroke-width="1.4"/>
<path d="M188.9 300.3L185.2 301.4" stroke="#3a5268" stroke-width="1.9"/>
<path d="M190.2 300.2L194.8 301.7" stroke="#3a5268" stroke-width="2"/>
<path d="M190.4 300L193.8 301.3" stroke="#3a5268" stroke-width="1.3"/>
<path d="M189.6 303L186.6 304" stroke="#182a3c" stroke-width="1.1"/>
<path d="M189.6 302.8L184.9 304.7" stroke="#8ca4ba" stroke-width="1.1"/>
<path d="M190.8 302.2L195.6 304" stroke="#3a5268" stroke-width="1.5"/>
<path d="M190.9 301.8L193.4 303.2" stroke="#3a5268" stroke-width="1.8"/>
<path d="M189 304.6L184.2 307.3" stroke="#3a5268" stroke-width="1.6"/>
<path d="M189.6 304L184.6 306.6" stroke="#3a5268" stroke-width="1.5"/>
<path d="M191.6 303.5L196.9 304.9" stroke="#3a5268" stroke-width="1.1"/>
<path d="M190.8 304L196.4 307" stroke="#182a3c" stroke-width="1.1"/>
<path d="M189.2 305.3L185.9 307.1" stroke="#3a5268" stroke-width="1.4"/>
<path d="M188.5 305.7L182.7 308.1" stroke="#3a5268" stroke-width="1.2"/>
<path d="M191.5 305.3L194.7 306.9" stroke="#3a5268" stroke-width="1.6"/>
<path d="M191.5 306.6L195.4 307.6" stroke="#182a3c" stroke-width="1.6"/>
<path d="M189.8 308.5L186.3 310.4" stroke="#3a5268" stroke-width="1.2"/>
<path d="M189.2 307.5L186.1 308.3" stroke="#3a5268" stroke-width="1.8"/>
<path d="M190.8 307.9L193.8 308.8" stroke="#8ca4ba" stroke-width="1.1"/>
<path d="M191.8 308.6L195.2 310.3" stroke="#182a3c" stroke-width="1.3"/>
<path d="M188.8 310.6L182.3 313" stroke="#3a5268" stroke-width="1.7"/>
<path d="M189.7 309.3L183.1 310.9" stroke="#3a5268" stroke-width="1.9"/>
<path d="M190.3 310.1L195.6 312.6" stroke="#8ca4ba" stroke-width="1.9"/>
<path d="M191 309.4L196.6 311.1" stroke="#3a5268" stroke-width="1.4"/>
<path d="M188.6 312.5L182.7 316" stroke="#3a5268" stroke-width="1.7"/>
<path d="M189.1 311.7L184.3 314.5" stroke="#8ca4ba" stroke-width="1.5"/>
<path d="M191.7 312.5L196.3 314.4" stroke="#8ca4ba" stroke-width="1.6"/>
<path d="M191.4 312.1L197.1 314.5" stroke="#3a5268" stroke-width="1.8"/>
<path d="M188.5 314.1L184.1 316.7" stroke="#3a5268" stroke-width="2"/>
<path d="M189 312.5L184.4 314.6" stroke="#3a5268" stroke-width="1.7"/>
<path d="M190.3 313.5L197.9 317" stroke="#3a5268" stroke-width="1"/>
<path d="M191.5 313.4L199.1 315.6" stroke="#182a3c" stroke-width="1.4"/>
<path d="M189 316.2L182.8 318.7" stroke="#3a5268" stroke-width="1.8"/>
<path d="M189.6 314.9L181.7 319.5" stroke="#3a5268" stroke-width="1.4"/>
<path d="M190.3 314.8L198 316.9" stroke="#3a5268" stroke-width="1.5"/>
<path d="M191 314.8L196 317.2" stroke="#182a3c" stroke-width="1.4"/>
</g>
<clipPath id="bigclip"><path d="M92 141 L158.8 141 L155.9 143.5 L163.7 146.4 L160.3 149.1 L168.5 152 L165.3 153.5 L171.1 157.1 L167.9 159.8 L170 161.8 L168.7 164.8 L168.6 168 L162.4 169.6 L167.2 173 L164.4 175.9 L166.1 178.1 L162.8 179.8 L168.5 184.9 L164.6 186.9 L168 190.3 L166.9 193.1 L171.6 195 L167 198 L172.3 201.7 L166.3 204.1 L169.8 207.9 L167.8 210.6 L174.1 212.5 L166.8 214.6 L172.1 217.6 L168.7 220.6 L170.5 222.8 L170 225.3 L173.6 229.7 L169.7 232.1 L173 236 L170.1 238.3 L174.8 241.9 L173.4 243.9 L178.3 248.6 L174.7 250.6 L178.5 252.9 L175.8 255.6 L183.9 258.1 L178.4 260.9 L185.7 264.9 L180.7 267.9 L190.8 270.7 L184.9 272.8 L192.7 275.5 L187.8 277.1 L194.6 281.9 L189.3 284.6 L193.6 286 L191.4 288.2 L193.8 290.5 L192.4 293.4 L198.3 297.5 L193.1 299.4 L197 305.6 L194.9 302.9 L193 308.9 L190.8 302.7 L188 310.6 L186.1 305.7 L183.7 313.4 L182.3 308.5 L180.2 315.9 L177.7 312.8 L175.2 318.7 L172.9 314 L171 320.4 L168.6 315.5 L167.2 321.7 L166.1 320.3 L162.6 324.5 L160.3 321.2 L158.8 328 L157.3 323.9 L154.7 329.2 L153.5 326.6 L149.5 333.5 L148.4 328.7 L142 338 L92 338Z"/></clipPath>
<g clip-path="url(#bigclip)">
<rect x="92" y="141" width="132" height="198" fill="url(#tree)"/>
<g transform="rotate(50 158 237)"><rect x="0" y="80" width="320" height="320" filter="url(#n2)"/><g mask="url(#lm)"><rect x="0" y="80" width="320" height="320" filter="url(#n1)"/></g><g mask="url(#tm)"><rect x="0" y="80" width="320" height="320" filter="url(#n3)"/></g></g>
</g>
<g fill="none" stroke-linecap="round" filter="url(#rough2)">
<path d="M122.9 168.2Q126.6 170.3 127.6 174.4" stroke="#a0bed6" stroke-width="1.5" opacity="0.9"/>
<path d="M110.5 155.2Q115.3 157.5 116.9 162.4" stroke="#dfe9f1" stroke-width="1.8" opacity="0.5"/>
<path d="M111.4 263.5Q117.4 267.8 118.3 274.9" stroke="#c4d8e8" stroke-width="0.9" opacity="0.8"/>
<path d="M119 166.9Q124.4 168.8 126.7 173.9" stroke="#1c2e40" stroke-width="1.6" opacity="0.7"/>
<path d="M107.4 157.5Q113.6 161.3 115.1 168.2" stroke="#101c28" stroke-width="2.8" opacity="0.6"/>
<path d="M121.8 255.1Q126.9 257.6 128.6 262.9" stroke="#1c2e40" stroke-width="1.6" opacity="0.6"/>
<path d="M142.4 206.7Q149.2 210 151.4 217" stroke="#eef3f7" stroke-width="1" opacity="0.6"/>
<path d="M149.6 295.8Q154.5 299.1 155.6 304.8" stroke="#eef3f7" stroke-width="1.5" opacity="0.7"/>
<path d="M140 270.8Q147.7 273.4 151.1 280.5" stroke="#101c28" stroke-width="2" opacity="0.6"/>
<path d="M138.6 171.6Q142.6 173 144.3 176.8" stroke="#1c2e40" stroke-width="2.9" opacity="0.6"/>
<path d="M105 218.3Q109.3 220.1 110.9 224.4" stroke="#a0bed6" stroke-width="1.6" opacity="0.9"/>
<path d="M163.8 214.1Q167.9 215.7 169.5 219.6" stroke="#c4d8e8" stroke-width="0.8" opacity="0.8"/>
<path d="M106.8 194.4Q113.4 196.8 116.2 203.2" stroke="#243a4e" stroke-width="3.3" opacity="0.7"/>
<path d="M144.8 261.5Q148.4 263.6 149.3 267.6" stroke="#101c28" stroke-width="2.2" opacity="0.6"/>
<path d="M140.9 218.1Q150.1 221.6 153.8 230.4" stroke="#dfe9f1" stroke-width="1.2" opacity="0.5"/>
<path d="M86 168.3Q91.7 170.2 94.2 175.6" stroke="#c4d8e8" stroke-width="1.5" opacity="0.5"/>
<path d="M114.8 207.5Q118.9 209.4 120.4 213.6" stroke="#101c28" stroke-width="2.4" opacity="0.6"/>
<path d="M102.4 287.9Q108.2 291.5 109.5 298" stroke="#142230" stroke-width="1.8" opacity="0.8"/>
<path d="M127.2 276Q134.1 280.9 135.3 289.1" stroke="#dfe9f1" stroke-width="1.6" opacity="0.6"/>
<path d="M127.8 171.4Q133.8 175.2 135.1 182" stroke="#243a4e" stroke-width="2.7" opacity="0.7"/>
<path d="M175.9 289.7Q180.8 291.6 182.8 296.3" stroke="#c4d8e8" stroke-width="1" opacity="0.7"/>
<path d="M108.1 259Q116.1 262.6 118.9 270.6" stroke="#243a4e" stroke-width="3.3" opacity="0.6"/>
<path d="M111.1 183.4Q115.9 185.2 117.8 189.8" stroke="#142230" stroke-width="2.4" opacity="0.7"/>
<path d="M161.3 320Q168.4 324.5 169.9 332.5" stroke="#1c2e40" stroke-width="2.3" opacity="0.7"/>
<path d="M95.9 327.2Q101.6 330.7 102.9 337.1" stroke="#142230" stroke-width="2.8" opacity="0.5"/>
<path d="M100.5 168.2Q107.6 173.3 108.9 181.7" stroke="#eef3f7" stroke-width="1.6" opacity="0.6"/>
<path d="M148.5 164.2Q157.8 167.1 162 175.6" stroke="#1c2e40" stroke-width="2.3" opacity="0.8"/>
<path d="M114.7 196.6Q121.6 199.4 124.3 206.1" stroke="#eef3f7" stroke-width="1.8" opacity="0.5"/>
<path d="M170.4 317.5Q177.9 322 179.9 330.3" stroke="#1c2e40" stroke-width="2.5" opacity="0.7"/>
<path d="M88.1 226Q91.8 227.4 93.2 230.9" stroke="#1c2e40" stroke-width="1.7" opacity="0.7"/>
<path d="M99.7 150.4Q105.8 154 107.3 160.7" stroke="#dfe9f1" stroke-width="1.9" opacity="0.5"/>
<path d="M107.8 146.4Q114 148.6 116.7 154.4" stroke="#dfe9f1" stroke-width="1.3" opacity="0.7"/>
<path d="M143.6 240.4Q149.3 243.8 150.7 250.1" stroke="#101c28" stroke-width="2.4" opacity="0.5"/>
<path d="M145.6 313.2Q153.3 318.7 154.6 327.8" stroke="#1c2e40" stroke-width="3.1" opacity="0.5"/>
<path d="M99.9 226.4Q104.9 228.1 107.1 232.8" stroke="#a0bed6" stroke-width="1.7" opacity="0.9"/>
<path d="M103.6 281.2Q107.7 283.6 108.7 288.1" stroke="#101c28" stroke-width="1.8" opacity="0.8"/>
<path d="M131.4 235.5Q138.5 240.8 139.5 249.4" stroke="#eef3f7" stroke-width="2" opacity="0.6"/>
<path d="M134 209.3Q139.8 211.3 142.2 216.7" stroke="#eef3f7" stroke-width="1.3" opacity="0.5"/>
<path d="M123.8 262.8Q127.6 264.7 128.7 268.7" stroke="#1c2e40" stroke-width="3.3" opacity="0.5"/>
<path d="M116.3 145.9Q120.9 148.9 121.9 154.1" stroke="#eef3f7" stroke-width="1.8" opacity="0.8"/>
<path d="M147.2 241Q152.4 243.6 154 249.1" stroke="#c4d8e8" stroke-width="1.3" opacity="0.5"/>
<path d="M124.7 248.6Q129.1 251.8 129.9 257.1" stroke="#c4d8e8" stroke-width="1.9" opacity="0.9"/>
<path d="M115.9 174.2Q122.1 178.7 123.1 186.1" stroke="#c4d8e8" stroke-width="1.1" opacity="0.7"/>
<path d="M106.3 207.4Q111.4 209 113.7 213.7" stroke="#c4d8e8" stroke-width="1.4" opacity="0.6"/>
<path d="M137 269.7Q143.7 273.6 145.5 281" stroke="#101c28" stroke-width="3.3" opacity="0.6"/>
<path d="M110.5 183.9Q119.1 187.2 122.6 195.5" stroke="#1c2e40" stroke-width="2.2" opacity="0.6"/>
<path d="M92.2 164Q100.1 166.6 103.6 174" stroke="#c4d8e8" stroke-width="0.9" opacity="0.7"/>
<path d="M129.4 239.2Q135.4 243.6 136.3 250.9" stroke="#142230" stroke-width="2.3" opacity="0.5"/>
<path d="M136.8 190.6Q144.7 196.4 145.9 205.9" stroke="#1c2e40" stroke-width="1.5" opacity="0.8"/>
<path d="M110.8 174.6Q114.8 176.3 116.3 180.4" stroke="#c4d8e8" stroke-width="1.1" opacity="0.8"/>
<path d="M96.4 301.4Q103.3 303.9 106.2 310.6" stroke="#243a4e" stroke-width="2" opacity="0.5"/>
<path d="M152.8 243.8Q159.4 248 160.9 255.5" stroke="#101c28" stroke-width="2.9" opacity="0.7"/>
<path d="M142.3 194.8Q146.5 197.2 147.6 201.6" stroke="#101c28" stroke-width="2.9" opacity="0.8"/>
<path d="M101.9 242.8Q109.8 246.8 112.3 255.2" stroke="#1c2e40" stroke-width="1.6" opacity="0.5"/>
<path d="M128.9 228.3Q132.7 229.5 134.4 233" stroke="#1c2e40" stroke-width="2.4" opacity="0.5"/>
<path d="M176.9 287.7Q183.2 290.9 185.2 297.5" stroke="#142230" stroke-width="2.9" opacity="0.6"/>
<path d="M178.3 307.2Q186.1 310.4 189.1 318" stroke="#eef3f7" stroke-width="1.4" opacity="0.6"/>
<path d="M140.6 274.7Q147 278.8 148.4 286.1" stroke="#142230" stroke-width="2.6" opacity="0.6"/>
<path d="M160.3 276.6Q164.3 278.9 165.4 283.3" stroke="#101c28" stroke-width="1.9" opacity="0.7"/>
<path d="M164.9 273.1Q171.3 275.9 173.7 282.2" stroke="#101c28" stroke-width="2.9" opacity="0.8"/>
<path d="M148.6 200.3Q154.9 202.5 157.7 208.5" stroke="#dfe9f1" stroke-width="1.8" opacity="0.9"/>
<path d="M137.2 191.7Q146.2 195.2 149.7 203.9" stroke="#dfe9f1" stroke-width="1" opacity="0.7"/>
<path d="M187.1 278.7Q195.7 282.1 199.1 290.5" stroke="#142230" stroke-width="1.7" opacity="0.8"/>
<path d="M163.7 219.1Q169.1 222.4 170.4 228.5" stroke="#dfe9f1" stroke-width="1.8" opacity="0.5"/>
<path d="M171.6 305.8Q180.5 309 184.3 317.4" stroke="#243a4e" stroke-width="1.9" opacity="0.5"/>
<path d="M130.5 312Q139.4 315 143.3 323.4" stroke="#142230" stroke-width="2" opacity="0.5"/>
<path d="M161.5 265Q170.6 268.3 174.4 277" stroke="#a0bed6" stroke-width="1" opacity="0.6"/>
<path d="M178.6 264.2Q186.3 269.7 187.7 278.9" stroke="#142230" stroke-width="1.5" opacity="0.7"/>
<path d="M137.4 288.5Q142.2 291.3 143.5 296.6" stroke="#c4d8e8" stroke-width="1" opacity="0.6"/>
<path d="M118.1 189.1Q124.7 193.3 126.3 200.7" stroke="#c4d8e8" stroke-width="1.2" opacity="0.7"/>
<path d="M131 171.5Q135.7 173.2 137.7 177.8" stroke="#101c28" stroke-width="2.5" opacity="0.6"/>
<path d="M123.9 289.8Q130.4 292.9 132.6 299.6" stroke="#c4d8e8" stroke-width="1.2" opacity="0.5"/>
<path d="M113.3 189.7Q121.4 194.1 123.7 202.8" stroke="#101c28" stroke-width="2.2" opacity="0.7"/>
<path d="M109.9 192Q115.8 195.7 117.1 202.3" stroke="#243a4e" stroke-width="1.7" opacity="0.7"/>
<path d="M157.8 310.6Q162.9 312.6 164.9 317.5" stroke="#eef3f7" stroke-width="1.6" opacity="0.6"/>
<path d="M121.6 300.9Q125.3 303.6 125.9 308.1" stroke="#101c28" stroke-width="3.3" opacity="0.6"/>
<path d="M94.3 324Q100.1 328.2 101 335" stroke="#101c28" stroke-width="1.9" opacity="0.5"/>
<path d="M103.6 242.5Q111.8 247.4 113.9 256.5" stroke="#101c28" stroke-width="1.6" opacity="0.8"/>
<path d="M86.2 163.1Q89.7 165.1 90.8 168.9" stroke="#1c2e40" stroke-width="2.7" opacity="0.7"/>
<path d="M135.9 290.8Q141.2 292.6 143.5 297.7" stroke="#1c2e40" stroke-width="2.2" opacity="0.5"/>
<path d="M120.4 230.1Q126.6 234.7 127.6 242.2" stroke="#101c28" stroke-width="2.5" opacity="0.7"/>
<path d="M89.3 220.4Q93 222.5 93.9 226.4" stroke="#eef3f7" stroke-width="0.9" opacity="0.6"/>
<path d="M134.4 212Q141.6 215.7 143.8 223.2" stroke="#243a4e" stroke-width="2.8" opacity="0.5"/>
<path d="M176.9 285.8Q181.4 288.2 182.8 292.9" stroke="#243a4e" stroke-width="2.9" opacity="0.5"/>
<path d="M139 191Q142.7 193.6 143.4 197.9" stroke="#1c2e40" stroke-width="3.2" opacity="0.6"/>
<path d="M153.8 322.4Q157.6 323.6 159.3 327.2" stroke="#101c28" stroke-width="1.5" opacity="0.5"/>
<path d="M130.8 317.6Q137.6 322.4 138.9 330.4" stroke="#1c2e40" stroke-width="2.1" opacity="0.5"/>
<path d="M192.7 287.3Q200.2 289.7 203.5 296.6" stroke="#a0bed6" stroke-width="2" opacity="0.6"/>
<path d="M98.4 153.6Q104.5 155.7 107.1 161.4" stroke="#1c2e40" stroke-width="2.2" opacity="0.8"/>
<path d="M121.2 298.8Q128.9 301.4 132.2 308.6" stroke="#eef3f7" stroke-width="1" opacity="0.6"/>
<path d="M132.8 300.4Q136.3 302.6 137.1 306.5" stroke="#dfe9f1" stroke-width="1.8" opacity="0.5"/>
<path d="M108.2 150.6Q113.5 153.5 115 159.2" stroke="#dfe9f1" stroke-width="1.1" opacity="0.8"/>
<path d="M122.1 193.1Q130.1 195.6 133.8 203" stroke="#142230" stroke-width="1.4" opacity="0.5"/>
<path d="M140.2 329.4Q145.2 333 146 339" stroke="#eef3f7" stroke-width="1.8" opacity="0.5"/>
<path d="M112.9 310.2Q120.6 314.1 123.1 322.1" stroke="#1c2e40" stroke-width="2.2" opacity="0.5"/>
<path d="M132.5 267.9Q138.9 271.1 140.9 277.8" stroke="#eef3f7" stroke-width="1.9" opacity="0.9"/>
<path d="M116.2 154.8Q122.7 157.1 125.5 163.2" stroke="#101c28" stroke-width="1.7" opacity="0.5"/>
<path d="M138.5 316.3Q145.1 318.9 147.7 325.3" stroke="#142230" stroke-width="3" opacity="0.6"/>
<path d="M117.9 191.5Q122.9 193.6 124.8 198.5" stroke="#c4d8e8" stroke-width="1.1" opacity="0.5"/>
<path d="M123.2 217.2Q128.7 221.4 129.5 228.1" stroke="#dfe9f1" stroke-width="1.6" opacity="0.9"/>
<path d="M97.7 233Q105.1 237.9 106.7 246.5" stroke="#142230" stroke-width="3.2" opacity="0.5"/>
<path d="M91.7 258.1Q95.9 260.9 96.8 265.7" stroke="#c4d8e8" stroke-width="1.3" opacity="0.6"/>
<path d="M98.1 257.2Q102.6 259.8 103.8 264.7" stroke="#c4d8e8" stroke-width="0.9" opacity="0.9"/>
<path d="M90.4 284.4Q97.5 289.5 98.8 298" stroke="#101c28" stroke-width="2.8" opacity="0.5"/>
<path d="M121.6 178.7Q127.6 182.6 128.9 189.5" stroke="#dfe9f1" stroke-width="1.8" opacity="0.7"/>
<path d="M103.6 244.8Q109 247.9 110.5 253.9" stroke="#a0bed6" stroke-width="1.6" opacity="0.6"/>
<path d="M91.9 287.1Q97.1 290.7 98 296.8" stroke="#a0bed6" stroke-width="1.6" opacity="0.6"/>
<path d="M132.2 326.4Q136.5 328.5 137.9 332.9" stroke="#dfe9f1" stroke-width="1.3" opacity="0.8"/>
<path d="M138.5 170.5Q145.4 172.7 148.5 179" stroke="#101c28" stroke-width="1.6" opacity="0.7"/>
<path d="M128.3 238.9Q133.5 240.8 135.7 245.8" stroke="#142230" stroke-width="1.6" opacity="0.6"/>
<path d="M108.5 163.3Q116.4 169.1 117.7 178.5" stroke="#dfe9f1" stroke-width="1.5" opacity="0.7"/>
<path d="M95.8 280.5Q103.8 285.2 105.8 294" stroke="#1c2e40" stroke-width="2.6" opacity="0.7"/>
<path d="M108.4 232.6Q112 234.5 113 238.4" stroke="#1c2e40" stroke-width="2.2" opacity="0.5"/>
<path d="M114.2 283Q117.5 285.3 118.1 289.3" stroke="#142230" stroke-width="2.7" opacity="0.6"/>
<path d="M130.4 229.1Q137.5 233.9 138.9 242.2" stroke="#243a4e" stroke-width="2.6" opacity="0.6"/>
<path d="M161.1 227.4Q164.7 229.1 165.9 232.8" stroke="#101c28" stroke-width="2.3" opacity="0.6"/>
<path d="M156.5 301.8Q163.8 306.7 165.2 315.1" stroke="#142230" stroke-width="1.7" opacity="0.6"/>
<path d="M96.5 226.4Q100.1 228.3 101.2 232.1" stroke="#142230" stroke-width="3.2" opacity="0.6"/>
<path d="M171.7 317Q179.2 321.3 181.1 329.5" stroke="#dfe9f1" stroke-width="2" opacity="0.8"/>
<path d="M104.8 295.7Q108.3 298.2 108.8 302.3" stroke="#a0bed6" stroke-width="1" opacity="0.9"/>
<path d="M117.3 301.1Q123.8 303.5 126.5 309.6" stroke="#1c2e40" stroke-width="2.6" opacity="0.7"/>
<path d="M113.1 212.5Q118.9 214.7 121.3 220.4" stroke="#243a4e" stroke-width="2.8" opacity="0.8"/>
<path d="M105.2 295Q111.9 297.3 114.7 303.6" stroke="#243a4e" stroke-width="3.3" opacity="0.6"/>
<path d="M145.4 275.7Q149.8 278.8 150.6 284" stroke="#101c28" stroke-width="2.9" opacity="0.6"/>
<path d="M128.8 211.8Q134.3 213.8 136.6 219" stroke="#c4d8e8" stroke-width="1" opacity="0.8"/>
<path d="M91.5 302Q98.7 304.9 101.4 311.9" stroke="#243a4e" stroke-width="2.9" opacity="0.7"/>
<path d="M111.3 196.2Q116.8 199.3 118.3 205.4" stroke="#dfe9f1" stroke-width="1" opacity="0.6"/>
<path d="M86.3 209Q92 211 94.4 216.3" stroke="#a0bed6" stroke-width="1.5" opacity="0.5"/>
<path d="M157.1 233Q166.1 236.2 169.8 244.7" stroke="#c4d8e8" stroke-width="1.3" opacity="0.5"/>
<path d="M102.5 271.1Q110.6 274.4 113.7 282.4" stroke="#142230" stroke-width="2.7" opacity="0.7"/>
<path d="M125.9 267.1Q134.5 271.3 137.3 280.2" stroke="#1c2e40" stroke-width="1.7" opacity="0.5"/>
<path d="M93 143Q97.5 144.8 99.3 149.1" stroke="#142230" stroke-width="1.4" opacity="0.7"/>
<path d="M108.7 259.6Q115.6 263.2 117.8 270.4" stroke="#1c2e40" stroke-width="2.4" opacity="0.5"/>
<path d="M168.6 233.6Q174 236.4 175.6 242.2" stroke="#eef3f7" stroke-width="0.9" opacity="0.7"/>
<path d="M115.8 266.8Q124.5 269.9 128.2 278.1" stroke="#243a4e" stroke-width="2.8" opacity="0.6"/>
<path d="M149.1 225.2Q155 229 156.3 235.8" stroke="#c4d8e8" stroke-width="0.9" opacity="0.7"/>
<path d="M105.4 318.9Q109.6 321.8 110.4 326.7" stroke="#a0bed6" stroke-width="1" opacity="0.6"/>
<path d="M154.5 213.9Q162.3 219.2 163.9 228.3" stroke="#101c28" stroke-width="2.3" opacity="0.7"/>
<path d="M86.7 143.3Q91 146.4 91.6 151.5" stroke="#1c2e40" stroke-width="2.2" opacity="0.7"/>
<path d="M150.4 172.3Q154.7 173.7 156.7 177.7" stroke="#1c2e40" stroke-width="2.1" opacity="0.5"/>
<path d="M89.3 146.3Q95.9 150.3 97.5 157.6" stroke="#142230" stroke-width="1.5" opacity="0.7"/>
<path d="M127.4 301.5Q135.1 306.6 136.7 315.5" stroke="#eef3f7" stroke-width="0.9" opacity="0.5"/>
<path d="M98.8 144.9Q106 149.8 107.5 158.2" stroke="#243a4e" stroke-width="2.4" opacity="0.5"/>
<path d="M176.3 267.3Q181.7 269.6 183.7 274.9" stroke="#a0bed6" stroke-width="1.1" opacity="0.6"/>
<path d="M167.6 211.6Q176.5 215.5 179.7 224.4" stroke="#a0bed6" stroke-width="1.5" opacity="0.5"/>
<path d="M133.1 225.3Q138.1 228.5 139.2 234.2" stroke="#1c2e40" stroke-width="2.8" opacity="0.8"/>
<path d="M151.5 195.4Q157.8 198.5 159.9 205" stroke="#dfe9f1" stroke-width="0.8" opacity="0.7"/>
<path d="M142 297.4Q148.4 299.8 151 305.9" stroke="#a0bed6" stroke-width="1.5" opacity="0.5"/>
<path d="M112.4 171.2Q119.3 176.1 120.4 184.4" stroke="#dfe9f1" stroke-width="1.6" opacity="0.6"/>
<path d="M131.7 216.9Q135.3 219.4 136 223.6" stroke="#142230" stroke-width="2.1" opacity="0.6"/>
<path d="M134.8 247Q144 250.4 147.7 259.2" stroke="#101c28" stroke-width="1.7" opacity="0.7"/>
<path d="M164.6 259.1Q171.6 261.3 174.7 267.8" stroke="#101c28" stroke-width="2.7" opacity="0.7"/>
<path d="M105.3 225.8Q111.5 229.7 112.9 236.8" stroke="#eef3f7" stroke-width="1.6" opacity="0.8"/>
<path d="M143.9 191.5Q151.4 196.2 153.1 204.7" stroke="#1c2e40" stroke-width="3.3" opacity="0.7"/>
<path d="M154.7 207.7Q163.7 211.3 167.2 220.1" stroke="#dfe9f1" stroke-width="1" opacity="0.7"/>
<path d="M108.3 168.2Q113.6 170.1 115.8 175.2" stroke="#a0bed6" stroke-width="1" opacity="0.7"/>
<path d="M98.2 179.3Q101.9 181 103.1 184.7" stroke="#eef3f7" stroke-width="1.6" opacity="0.7"/>
<path d="M158.1 230.7Q165.1 233.2 168.1 239.9" stroke="#c4d8e8" stroke-width="1.9" opacity="0.6"/>
<path d="M151.4 287.8Q156.2 290.1 157.7 294.9" stroke="#1c2e40" stroke-width="2.8" opacity="0.7"/>
<path d="M137.7 200.6Q141.6 202.8 142.7 207" stroke="#eef3f7" stroke-width="1.7" opacity="0.7"/>
<path d="M114.5 222.7Q121.3 226.1 123.6 233.2" stroke="#c4d8e8" stroke-width="1.9" opacity="0.6"/>
<path d="M87.2 304.4Q90.9 307 91.5 311.3" stroke="#c4d8e8" stroke-width="1" opacity="0.8"/>
<path d="M97.5 252.9Q104.8 256.7 106.9 264.5" stroke="#243a4e" stroke-width="2.4" opacity="0.6"/>
<path d="M164 216.5Q167.9 219 168.8 223.4" stroke="#243a4e" stroke-width="2.7" opacity="0.6"/>
<path d="M129.5 150.3Q138.4 153.3 142.3 161.6" stroke="#243a4e" stroke-width="2.6" opacity="0.5"/>
<path d="M120.6 218.1Q128.5 223.8 129.7 233.3" stroke="#101c28" stroke-width="2.3" opacity="0.5"/>
<path d="M159.2 282.1Q163.2 284.7 164 289.3" stroke="#101c28" stroke-width="2.3" opacity="0.6"/>
<path d="M148.5 163Q153.5 166.4 154.5 172.1" stroke="#243a4e" stroke-width="2.8" opacity="0.7"/>
<path d="M140.9 299.1Q145.9 302.4 147 308.2" stroke="#243a4e" stroke-width="2.4" opacity="0.6"/>
<path d="M158.7 269.9Q167.3 273.8 170.3 282.5" stroke="#142230" stroke-width="1.6" opacity="0.7"/>
<path d="M123 326.5Q128.3 329.3 129.9 334.9" stroke="#142230" stroke-width="1.8" opacity="0.5"/>
<path d="M119.4 259.6Q127.3 264 129.6 272.5" stroke="#eef3f7" stroke-width="1.2" opacity="0.5"/>
<path d="M189.1 296.3Q197.7 299.6 201.3 307.9" stroke="#142230" stroke-width="2.7" opacity="0.8"/>
<path d="M175.8 305.8Q183.3 308.6 186.4 315.9" stroke="#101c28" stroke-width="2.7" opacity="0.5"/>
<path d="M99.5 221.8Q105.1 225.5 106.2 232" stroke="#101c28" stroke-width="2.3" opacity="0.5"/>
<path d="M142 237.6Q150 241.9 152.4 250.4" stroke="#a0bed6" stroke-width="1.4" opacity="0.7"/>
<path d="M161.8 306.1Q167.6 308.8 169.7 314.7" stroke="#142230" stroke-width="1.8" opacity="0.6"/>
<path d="M91.2 285.3Q98.2 290.6 99.2 299.1" stroke="#eef3f7" stroke-width="1.4" opacity="0.9"/>
<path d="M89.9 281.6Q95 284.5 96.4 290.1" stroke="#243a4e" stroke-width="2.1" opacity="0.8"/>
<path d="M149.2 320.5Q154.6 322.8 156.7 328.2" stroke="#dfe9f1" stroke-width="1.8" opacity="0.6"/>
<path d="M143.4 192.3Q152.1 196.8 154.8 205.9" stroke="#142230" stroke-width="2.1" opacity="0.6"/>
<path d="M120.1 255.3Q127.6 259.6 129.6 267.7" stroke="#eef3f7" stroke-width="1.5" opacity="0.5"/>
<path d="M107.7 322.3Q114.5 326.1 116.4 333.5" stroke="#101c28" stroke-width="2.6" opacity="0.7"/>
<path d="M165.4 257.3Q169.8 259.9 170.9 264.8" stroke="#101c28" stroke-width="2.7" opacity="0.5"/>
<path d="M161.7 311.8Q165.7 313.8 167 317.9" stroke="#142230" stroke-width="2.1" opacity="0.8"/>
<path d="M175.7 250.4Q180.9 252.6 182.9 257.7" stroke="#a0bed6" stroke-width="0.8" opacity="0.7"/>
<path d="M151.9 320.8Q158.2 324 160.1 330.5" stroke="#101c28" stroke-width="2.6" opacity="0.8"/>
<path d="M130.1 256.4Q138.1 262.1 139.4 271.6" stroke="#101c28" stroke-width="2.5" opacity="0.5"/>
<path d="M139.8 317.2Q145.4 320.3 146.9 326.4" stroke="#dfe9f1" stroke-width="2" opacity="0.8"/>
<path d="M110.9 162.3Q115.8 164.7 117.4 169.9" stroke="#eef3f7" stroke-width="1.7" opacity="0.5"/>
<path d="M91.7 292.8Q99.4 297.5 101.3 306.1" stroke="#142230" stroke-width="2" opacity="0.7"/>
<path d="M142.8 271.9Q150.5 277.3 151.9 286.3" stroke="#dfe9f1" stroke-width="0.8" opacity="0.5"/>
<path d="M160.2 301.5Q165.6 303.3 168 308.4" stroke="#1c2e40" stroke-width="3.3" opacity="0.8"/>
<path d="M155.4 201.3Q162.1 206.1 163.2 214.1" stroke="#c4d8e8" stroke-width="1" opacity="0.8"/>
<path d="M127.4 267Q133 270.1 134.5 276.2" stroke="#eef3f7" stroke-width="1.9" opacity="0.8"/>
<path d="M150.6 196.5Q159.9 199.5 163.9 208.1" stroke="#243a4e" stroke-width="3.1" opacity="0.7"/>
<path d="M87.8 168.2Q93.9 172.3 95.2 179.4" stroke="#1c2e40" stroke-width="2.2" opacity="0.7"/>
<path d="M154.6 317.2Q159.3 320.3 160.2 325.6" stroke="#a0bed6" stroke-width="1.1" opacity="0.5"/>
<path d="M190.9 290.7Q195.7 293.7 196.7 299.1" stroke="#c4d8e8" stroke-width="1.1" opacity="0.8"/>
<path d="M178 274.9Q182.9 278.4 183.7 284.1" stroke="#eef3f7" stroke-width="1.8" opacity="0.5"/>
<path d="M112.7 259.4Q118.4 262.8 119.9 269.1" stroke="#a0bed6" stroke-width="1.5" opacity="0.5"/>
<path d="M129.9 246.1Q135.2 248.9 136.8 254.6" stroke="#eef3f7" stroke-width="1.5" opacity="0.9"/>
<path d="M140.3 255.9Q145 257.7 146.9 262.2" stroke="#a0bed6" stroke-width="1.2" opacity="0.7"/>
<path d="M131.9 241.4Q135.8 242.9 137.4 246.6" stroke="#243a4e" stroke-width="3.1" opacity="0.6"/>
<path d="M138.8 154.3Q142.5 155.9 143.9 159.7" stroke="#dfe9f1" stroke-width="0.9" opacity="0.5"/>
<path d="M152.9 180.7Q157.4 183.9 158.1 189.3" stroke="#eef3f7" stroke-width="1.7" opacity="0.8"/>
<path d="M90.3 178.2Q94.4 179.7 96.1 183.7" stroke="#a0bed6" stroke-width="1.8" opacity="0.7"/>
<path d="M93.3 257.6Q97.5 259.5 98.9 263.8" stroke="#243a4e" stroke-width="2" opacity="0.5"/>
<path d="M96.2 322.2Q100.6 324.4 102 329.1" stroke="#243a4e" stroke-width="3.3" opacity="0.8"/>
<path d="M111.3 145.7Q116.8 148 118.9 153.4" stroke="#142230" stroke-width="3.1" opacity="0.5"/>
<path d="M175.6 279.9Q184.1 284.8 186.4 294.2" stroke="#c4d8e8" stroke-width="1.2" opacity="0.5"/>
<path d="M108.7 287.6Q114.4 290.8 116 297" stroke="#101c28" stroke-width="2" opacity="0.6"/>
<path d="M100.2 234.3Q105.1 236.1 107.1 240.9" stroke="#dfe9f1" stroke-width="1.4" opacity="0.9"/>
<path d="M156.5 212.6Q163.8 217.2 165.5 225.4" stroke="#101c28" stroke-width="3.1" opacity="0.7"/>
<path d="M137.6 206Q143.2 209.7 144.3 216.2" stroke="#1c2e40" stroke-width="2.1" opacity="0.7"/>
<path d="M106.5 228.3Q111.9 232 112.9 238.3" stroke="#eef3f7" stroke-width="1.3" opacity="0.5"/>
<path d="M116.9 305.9Q121.4 307.9 123 312.3" stroke="#243a4e" stroke-width="2.3" opacity="0.6"/>
<path d="M103.5 240.7Q111 245 113 253.1" stroke="#101c28" stroke-width="3.1" opacity="0.5"/>
<path d="M135.3 190.3Q140.2 192.3 142.1 197.1" stroke="#eef3f7" stroke-width="1.9" opacity="0.5"/>
<path d="M107.2 225Q111.4 228 112.1 233" stroke="#1c2e40" stroke-width="3.1" opacity="0.7"/>
<path d="M112.3 173.1Q120 177.4 122.2 185.8" stroke="#101c28" stroke-width="2.9" opacity="0.5"/>
<path d="M101.6 272Q106 274.5 107.2 279.2" stroke="#dfe9f1" stroke-width="0.9" opacity="0.8"/>
<path d="M132.5 282.3Q140.8 285.1 144.5 292.8" stroke="#eef3f7" stroke-width="0.9" opacity="0.6"/>
<path d="M161.9 187.7Q170.5 192.3 173 201.6" stroke="#a0bed6" stroke-width="1.5" opacity="0.8"/>
<path d="M126.6 324.4Q130 327 130.6 331.1" stroke="#c4d8e8" stroke-width="1.8" opacity="0.8"/>
<path d="M122.6 280.2Q130.2 283.7 132.9 291.5" stroke="#dfe9f1" stroke-width="1.9" opacity="0.7"/>
<path d="M144.5 244.1Q148 246 149.1 249.7" stroke="#1c2e40" stroke-width="2.6" opacity="0.5"/>
<path d="M121.6 249.1Q124.8 251.4 125.3 255.3" stroke="#1c2e40" stroke-width="1.9" opacity="0.8"/>
<path d="M158.6 230.8Q164.7 233.2 167 239.2" stroke="#dfe9f1" stroke-width="1.7" opacity="0.5"/>
<path d="M100 236.7Q105 239.2 106.5 244.4" stroke="#eef3f7" stroke-width="1.9" opacity="0.7"/>
<path d="M111.9 183.4Q117.7 186.8 119.1 193.1" stroke="#dfe9f1" stroke-width="1.9" opacity="0.6"/>
<path d="M133.9 305.9Q139.5 308.8 141.2 314.7" stroke="#243a4e" stroke-width="2.1" opacity="0.5"/>
<path d="M124.2 225.1Q131.2 230.3 132.2 238.8" stroke="#101c28" stroke-width="3.1" opacity="0.5"/>
<path d="M145 329.6Q149.3 332.7 150 337.9" stroke="#142230" stroke-width="2.1" opacity="0.7"/>
<path d="M93.9 224.6Q97.4 226.4 98.5 230.2" stroke="#eef3f7" stroke-width="1.7" opacity="0.9"/>
<path d="M158.2 299.9Q165.7 305.1 167.1 314" stroke="#a0bed6" stroke-width="1.9" opacity="0.7"/>
<path d="M157.6 299.3Q161.9 300.6 163.8 304.6" stroke="#dfe9f1" stroke-width="1.3" opacity="0.9"/>
<path d="M118.8 199.1Q122.7 201.4 123.8 205.7" stroke="#243a4e" stroke-width="1.6" opacity="0.7"/>
<path d="M144.3 315Q150.3 319.3 151.3 326.4" stroke="#dfe9f1" stroke-width="1.7" opacity="0.6"/>
<path d="M137.8 277Q143.5 279.2 145.8 284.8" stroke="#243a4e" stroke-width="2.3" opacity="0.7"/>
<path d="M155.9 231.8Q160.7 233.9 162.5 238.8" stroke="#eef3f7" stroke-width="2" opacity="0.6"/>
<path d="M123.1 192Q127.3 194.9 128.1 199.9" stroke="#dfe9f1" stroke-width="1" opacity="0.5"/>
<path d="M93.1 215.6Q100.5 219.2 103 226.9" stroke="#c4d8e8" stroke-width="2" opacity="0.8"/>
<path d="M162.2 166.1Q169.2 168.8 172 175.6" stroke="#dfe9f1" stroke-width="1.7" opacity="0.8"/>
<path d="M175.5 279.7Q179.3 282.4 179.9 286.9" stroke="#142230" stroke-width="2.2" opacity="0.7"/>
<path d="M99.4 217.5Q103.2 220.4 103.7 225" stroke="#243a4e" stroke-width="3.1" opacity="0.7"/>
<path d="M129.3 228.5Q136.6 232.1 139 239.8" stroke="#eef3f7" stroke-width="1.4" opacity="0.7"/>
<path d="M129.4 198Q137.1 202.1 139.4 210.3" stroke="#eef3f7" stroke-width="1.5" opacity="0.5"/>
<path d="M182.1 305.6Q186.2 308.6 186.9 313.6" stroke="#142230" stroke-width="1.5" opacity="0.6"/>
<path d="M147.2 200.5Q152.8 203.7 154.4 209.8" stroke="#101c28" stroke-width="2.2" opacity="0.6"/>
<path d="M153.8 208.2Q160.2 212.9 161.2 220.6" stroke="#142230" stroke-width="2.2" opacity="0.7"/>
<path d="M159.9 323.7Q164.6 325.4 166.6 329.9" stroke="#101c28" stroke-width="2.3" opacity="0.7"/>
<path d="M146.4 301.2Q151.8 303.2 154.1 308.4" stroke="#243a4e" stroke-width="2.4" opacity="0.5"/>
<path d="M188 276Q196.2 281.4 197.9 290.9" stroke="#101c28" stroke-width="2.7" opacity="0.7"/>
<path d="M92.9 251Q99.8 253.4 102.7 259.9" stroke="#142230" stroke-width="2.8" opacity="0.5"/>
<path d="M86.3 280.1Q94.6 284.6 97.1 293.4" stroke="#dfe9f1" stroke-width="1.5" opacity="0.8"/>
<path d="M108.4 237.6Q113.2 240.1 114.7 245.3" stroke="#1c2e40" stroke-width="2.5" opacity="0.6"/>
<path d="M99.9 169.4Q103.7 171.8 104.5 176.1" stroke="#c4d8e8" stroke-width="1.9" opacity="0.7"/>
<path d="M139.3 224.1Q145.8 228.4 147.2 235.9" stroke="#243a4e" stroke-width="1.7" opacity="0.5"/>
<path d="M117.4 144.6Q125.3 149.1 127.4 157.6" stroke="#142230" stroke-width="2.1" opacity="0.6"/>
<path d="M130 148.9Q136 153.2 137.1 160.3" stroke="#101c28" stroke-width="1.5" opacity="0.5"/>
<path d="M111.4 169.9Q115.7 172.2 116.9 176.9" stroke="#eef3f7" stroke-width="1.2" opacity="0.7"/>
<path d="M130.4 281.7Q135.8 283.8 137.9 289" stroke="#101c28" stroke-width="1.4" opacity="0.8"/>
<path d="M96 172Q99.5 173.6 100.7 177.2" stroke="#101c28" stroke-width="2.5" opacity="0.5"/>
<path d="M146.8 215.1Q150.7 216.9 152 220.9" stroke="#a0bed6" stroke-width="1.5" opacity="0.6"/>
<path d="M139.2 206.9Q144.2 209.3 145.9 214.5" stroke="#c4d8e8" stroke-width="1.1" opacity="0.5"/>
<path d="M108.4 247Q114.4 250.9 115.8 257.8" stroke="#1c2e40" stroke-width="1.7" opacity="0.6"/>
<path d="M168.4 213.4Q172.5 216.4 173.1 221.4" stroke="#1c2e40" stroke-width="1.9" opacity="0.6"/>
<path d="M100.9 279.3Q109.5 282.8 112.8 291.3" stroke="#243a4e" stroke-width="2.5" opacity="0.6"/>
<path d="M144.2 163.1Q150.9 167.3 152.5 174.9" stroke="#a0bed6" stroke-width="1.7" opacity="0.8"/>
<path d="M89.3 281.6Q93 283 94.5 286.5" stroke="#1c2e40" stroke-width="3" opacity="0.5"/>
<path d="M107.5 316.3Q116.4 319.2 120.3 327.5" stroke="#243a4e" stroke-width="1.8" opacity="0.7"/>
<path d="M96 195.7Q101.3 199.2 102.3 205.2" stroke="#eef3f7" stroke-width="1.7" opacity="0.8"/>
<path d="M117.5 143.9Q124.3 147.9 126 155.4" stroke="#eef3f7" stroke-width="0.8" opacity="0.8"/>
<path d="M131.7 319.2Q137 321 139.3 326" stroke="#c4d8e8" stroke-width="1.7" opacity="0.5"/>
<path d="M90.6 170.4Q95.9 172.4 98 177.6" stroke="#dfe9f1" stroke-width="1.5" opacity="0.7"/>
<path d="M112 237.6Q120.3 241.9 122.9 250.8" stroke="#243a4e" stroke-width="3.3" opacity="0.5"/>
<path d="M173.1 269.1Q180.5 274.3 181.9 283.2" stroke="#142230" stroke-width="3.3" opacity="0.7"/>
<path d="M90.2 201.7Q95.2 204.9 96.3 210.6" stroke="#101c28" stroke-width="2.8" opacity="0.6"/>
<path d="M171.2 303.7Q175.3 305.4 176.8 309.5" stroke="#101c28" stroke-width="2.3" opacity="0.6"/>
<path d="M143.4 275.7Q149.7 279.9 151 287.3" stroke="#1c2e40" stroke-width="2.3" opacity="0.7"/>
<path d="M166.1 299.1Q172.7 301.9 175.3 308.4" stroke="#1c2e40" stroke-width="2.5" opacity="0.5"/>
<path d="M92.8 209.6Q97.4 211.7 98.9 216.4" stroke="#c4d8e8" stroke-width="1.6" opacity="0.7"/>
<path d="M141 279.1Q148.7 281.5 152.2 288.5" stroke="#a0bed6" stroke-width="1.6" opacity="0.5"/>
<path d="M166.7 255.5Q173.8 258.4 176.6 265.3" stroke="#eef3f7" stroke-width="1.7" opacity="0.5"/>
<path d="M162 257.7Q169.6 261.5 172.1 269.4" stroke="#142230" stroke-width="2.8" opacity="0.5"/>
<path d="M141.5 146.7Q146.1 149.9 147 155.4" stroke="#a0bed6" stroke-width="1.3" opacity="0.5"/>
<path d="M123 231.7Q127.4 233.7 129 238.2" stroke="#dfe9f1" stroke-width="1.4" opacity="0.9"/>
<path d="M141.3 287.5Q149 290.8 151.7 298.5" stroke="#eef3f7" stroke-width="1.9" opacity="0.7"/>
<path d="M127 156.2Q133.9 159.1 136.6 166" stroke="#243a4e" stroke-width="2.7" opacity="0.5"/>
<path d="M131.1 167Q139.9 171 143 180" stroke="#c4d8e8" stroke-width="0.9" opacity="0.8"/>
<path d="M121.4 261.4Q128.4 264.6 130.9 271.8" stroke="#c4d8e8" stroke-width="1.2" opacity="0.7"/>
<path d="M128.1 304.3Q131.9 305.8 133.4 309.5" stroke="#101c28" stroke-width="3.2" opacity="0.8"/>
<path d="M142.4 237.9Q147.7 239.9 149.9 244.9" stroke="#142230" stroke-width="1.7" opacity="0.5"/>
<path d="M101.8 265.4Q110.6 269.5 113.6 278.6" stroke="#101c28" stroke-width="1.8" opacity="0.7"/>
<path d="M86.3 306.2Q93.4 311 94.8 319.3" stroke="#243a4e" stroke-width="1.5" opacity="0.5"/>
<path d="M167 316.1Q170.7 317.4 172.4 320.8" stroke="#1c2e40" stroke-width="3.2" opacity="0.5"/>
<path d="M119.7 226.6Q125 229.5 126.5 235.1" stroke="#dfe9f1" stroke-width="1.5" opacity="0.7"/>
<path d="M134.8 244.9Q139 247.3 140.1 251.8" stroke="#dfe9f1" stroke-width="1.8" opacity="0.5"/>
<path d="M163.1 259.8Q169.8 262.7 172.4 269.4" stroke="#101c28" stroke-width="2.7" opacity="0.5"/>
<path d="M158.2 307.6Q166 310.7 169.1 318.2" stroke="#1c2e40" stroke-width="2.7" opacity="0.6"/>
<path d="M152.2 221.3Q158.6 224.7 160.6 231.5" stroke="#dfe9f1" stroke-width="1.1" opacity="0.9"/>
<path d="M109.1 288Q117.4 291.2 120.7 299.3" stroke="#1c2e40" stroke-width="2.5" opacity="0.6"/>
<path d="M141.8 248.8Q148.6 251.5 151.3 258.1" stroke="#dfe9f1" stroke-width="1.8" opacity="0.8"/>
<path d="M143.4 239.4Q151.3 244.8 152.9 254" stroke="#142230" stroke-width="2.3" opacity="0.7"/>
<path d="M148.1 331.6Q154.3 334 156.9 340.1" stroke="#a0bed6" stroke-width="1.7" opacity="0.5"/>
<path d="M113 212.5Q120.1 214.7 123.3 221.2" stroke="#a0bed6" stroke-width="0.9" opacity="0.5"/>
<path d="M99.1 283.6Q104.6 286.1 106.6 291.7" stroke="#142230" stroke-width="3.1" opacity="0.5"/>
<path d="M128.5 285.4Q135.2 290.3 136.2 298.3" stroke="#a0bed6" stroke-width="0.9" opacity="0.7"/>
<path d="M115 176.6Q123 180.5 125.7 188.9" stroke="#142230" stroke-width="3" opacity="0.6"/>
<path d="M94.4 189.7Q103.3 192.9 107 201.4" stroke="#101c28" stroke-width="3.1" opacity="0.7"/>
<path d="M136.6 143Q142.1 147 142.8 153.6" stroke="#dfe9f1" stroke-width="1.8" opacity="0.5"/>
<path d="M106.8 301.7Q112.1 304.8 113.5 310.8" stroke="#1c2e40" stroke-width="2.8" opacity="0.6"/>
<path d="M112.1 329.6Q117.5 332.4 119.1 338" stroke="#243a4e" stroke-width="3.2" opacity="0.7"/>
<path d="M91 171.9Q97.1 174.7 99.2 180.9" stroke="#101c28" stroke-width="3.3" opacity="0.6"/>
<path d="M124.2 234.7Q129.2 236.7 131.2 241.5" stroke="#142230" stroke-width="2.7" opacity="0.7"/>
<path d="M102.4 214.9Q111.7 218 115.8 226.7" stroke="#c4d8e8" stroke-width="2" opacity="0.5"/>
<path d="M149.9 292.2Q156.9 297 158.3 305.3" stroke="#142230" stroke-width="2.1" opacity="0.6"/>
<path d="M176.7 312.6Q183.1 317.2 184.2 325" stroke="#a0bed6" stroke-width="1.7" opacity="0.7"/>
<path d="M158.4 208.1Q164 211.1 165.6 217" stroke="#a0bed6" stroke-width="1.6" opacity="0.8"/>
<path d="M187.9 299.8Q191.7 302.7 192.3 307.3" stroke="#eef3f7" stroke-width="1.3" opacity="0.6"/>
<path d="M152.9 166.8Q157.5 169.6 158.6 174.7" stroke="#243a4e" stroke-width="1.5" opacity="0.5"/>
<path d="M120.7 208.7Q129.4 213 132.2 222.1" stroke="#142230" stroke-width="3.1" opacity="0.6"/>
<path d="M106 317.5Q113.4 321.5 115.6 329.5" stroke="#1c2e40" stroke-width="2.8" opacity="0.5"/>
<path d="M131.6 178.1Q139.5 182.5 141.7 191.1" stroke="#1c2e40" stroke-width="1.9" opacity="0.5"/>
<path d="M100.7 147.7Q109 150.5 112.7 158.3" stroke="#c4d8e8" stroke-width="0.8" opacity="0.6"/>
<path d="M122.8 143.5Q131.2 147.1 134.2 155.5" stroke="#eef3f7" stroke-width="1.3" opacity="0.8"/>
</g>
</g>
</svg>

<!-- bar chart -->
<svg class="abs" style="left:370px;top:120px;" width="590" height="260" viewBox="370 120 590 260" id="chartlbl">
  <g stroke="#f6f6f6" stroke-width="1">
    <line x1="384" x2="850" y1="172.5" y2="172.5"/>
    <line x1="384" x2="850" y1="200.5" y2="200.5"/><line x1="384" x2="850" y1="228.5" y2="228.5"/>
    <line x1="384" x2="850" y1="256.5" y2="256.5"/><line x1="384" x2="850" y1="283.5" y2="283.5"/>
    <line x1="384" x2="850" y1="311.5" y2="311.5"/>
  </g>
  <g>
    <rect x="406" y="186" width="41" height="153" fill="#c0c0c0"/>
    <rect x="449" y="165" width="41" height="174" fill="#00ffff"/>
    <rect x="492" y="184" width="41" height="155" fill="#219ab3"/>
    <rect x="553" y="174" width="41" height="165" fill="#c0c0c0"/>
    <rect x="596" y="184" width="42" height="155" fill="#00ffff"/>
    <rect x="701" y="213" width="41" height="126" fill="#c0c0c0"/>
    <rect x="744" y="180" width="41" height="159" fill="#00ffff"/>
  </g>
  <line x1="383.5" x2="383.5" y1="133" y2="340" stroke="#dddddd"/>
  <line x1="383" x2="850" y1="339.5" y2="339.5" stroke="#dddddd"/>
  <g font-size="12.3" fill="#3f3f3f" text-anchor="middle">
    <text x="469.5" y="354">January</text>
    <text x="616.5" y="354">February</text>
    <text x="764" y="354">December</text>
  </g>
  <g font-size="12.3" fill="#3f3f3f">
    <text x="866" y="226">Year</text>
    <rect x="867" y="239" width="10" height="10" fill="#c0c0c0"/>
    <rect x="867" y="261" width="10" height="10" fill="#00ffff"/>
    <rect x="867" y="284" width="10" height="10" fill="#219ab3"/>
    <text x="886" y="248.500">2009</text>
    <text x="886" y="270.500">2010</text>
    <text x="886" y="292.500">2011</text>
  </g>
</svg>

<!-- line chart -->
<div class="abs" style="left:59px;top:420px;width:879px;height:124px;background:#fff;"></div>
<svg class="abs" style="left:59px;top:420px;" width="879" height="124" viewBox="59 420 879 124" id="linechart">
  <g font-family="Liberation Sans, sans-serif">
  <line x1="132" x2="938" y1="441.5" y2="441.5" stroke="#ececec"/>
  <line x1="132" x2="938" y1="462.500" y2="462.500" stroke="#ececec"/>
  <line x1="131.500" x2="131.500" y1="420" y2="483" stroke="#d8d8d8"/>
  <line x1="131" x2="938" y1="482.500" y2="482.500" stroke="#d8d8d8"/>
  <polyline fill="none" stroke="#bbbbbb" stroke-width="1.8" stroke-linejoin="round" points="166,460.800 233,451.700 300,446.800 367,451.700 434,454.700 501,466.900 568,459.900 635,455.600 702,447.700 769,468.700 836,442.200 903,480.600"/>
  <polyline fill="none" stroke="#00ffff" stroke-width="2.1" stroke-linejoin="round" points="166,445.900 233,459.900 300,437.700 367,431 434,446.500 501,455 568,446.800 635,436.800 702,438.900 769,441 836,444.400 903,456.900"/>
  <circle cx="165.800" cy="458.800" r="2.300" fill="#219ab3"/>
  <g font-size="12.300" fill="#3f3f3f" text-anchor="end">
    <text x="123.500" y="445">13000</text>
    <text x="123.500" y="466">11000</text>
  </g>
  <text font-size="11.7" font-weight="bold" fill="#3a3a3a" text-anchor="middle" transform="translate(76,452) rotate(-90)">On-Ti…</text>
  <text font-size="12.500" font-weight="bold" fill="#333" text-anchor="middle" x="535" y="537">Month</text>
  <g font-size="12.300" fill="#4a4a4a" text-anchor="end">
    <text transform="translate(170,496) rotate(-30)">Janu…</text>
    <text transform="translate(237,496) rotate(-30)">Febr…</text>
    <text transform="translate(304,496) rotate(-30)">March</text>
    <text transform="translate(371,496) rotate(-30)">April</text>
    <text transform="translate(438,496) rotate(-30)">May</text>
    <text transform="translate(505,496) rotate(-30)">June</text>
    <text transform="translate(572,496) rotate(-30)">July</text>
    <text transform="translate(639,496) rotate(-30)">August</text>
    <text transform="translate(706,496) rotate(-30)">Sept…</text>
    <text transform="translate(773,496) rotate(-30)">Oct…</text>
    <text transform="translate(840,496) rotate(-30)">Nov…</text>
    <text transform="translate(907,496) rotate(-30)">Dec…</text>
  </g>
  </g>
</svg>
</body>
</html>
